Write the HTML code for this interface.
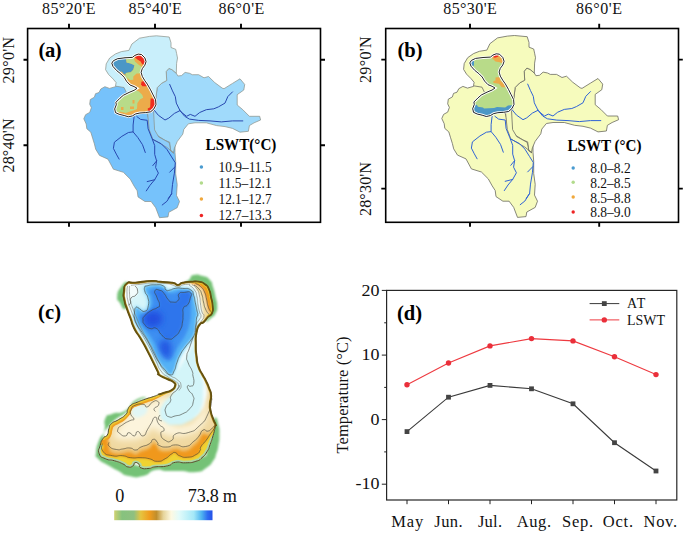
<!DOCTYPE html>
<html><head><meta charset="utf-8">
<style>
html,body{margin:0;padding:0;background:#fff;overflow:hidden;}
svg{display:block;font-family:"Liberation Serif",serif;}
.ax{font-size:16px;fill:#111;}
.lbl{font-size:20.6px;font-weight:bold;fill:#000;}
.lg{font-size:14.8px;fill:#111;}
.lgt{font-size:15.8px;font-weight:bold;fill:#000;}
.riv{fill:none;stroke-width:1;stroke-linejoin:round;stroke-linecap:round;}
.bd{stroke:#8a8f86;stroke-width:0.7;stroke-linejoin:round;}
</style></head>
<body>
<svg width="685" height="533" viewBox="0 0 685 533">
<defs>
<!-- BASINS -->
<path id="bTop" d="M106.2,63.9 L109.7,58 115.5,53.9 121.4,51.6 128.9,50.4 131.9,44 139.5,38.2 149.4,36.4 156.4,35.8 169.2,37 171,42.8 171,47.5 175.7,49.3 176.6,53.5 177.5,58 176.6,63.4 176.3,73.3 172.1,69.7 168.9,68.4 166.2,71.5 166.7,80.5 161.7,83.2 157.2,87.7 155.6,100.3 155,108 148,112 130,100 124,87.5 118,86.5 115.5,86.1 116.1,82.6 113.2,79.1 108.5,74.4 105.6,69.7 Z"/>
<path id="bRight" d="M166.2,71.5 L168.9,68.4 172.1,69.7 176.3,73.3 177.9,76 181.5,75.6 185.1,72.4 189.6,73.3 192.3,74.7 198.6,74.7 204,77.8 208.5,76.5 214.7,82.5 222.2,88.1 224,88.7 232.5,83.4 240,78.8 244.7,84.4 243.8,90 237.2,94.7 237.2,105 242.8,109.7 249.4,116.3 259.7,116.3 260.6,120 254.1,122.8 249.4,125.6 248.4,131.3 240,132.2 232.5,128.4 225,126.6 216.6,125.6 206.3,122.8 195,122.8 188.4,123.8 183.8,129.4 182.8,134.1 177.2,141.6 174.4,148.1 173.4,152.8 170.6,150.6 169.7,142.2 165,140.3 157.5,135.6 152.8,134.4 150,125 148.1,115.6 154.7,109.7 155.6,100.3 157.2,87.7 161.7,83.2 166.7,80.5 Z"/>
<path id="bLeft" d="M104.9,86.7 L109.5,88.4 115.4,86.7 118.3,84.3 124.7,86.1 129.4,88.4 134,92 148.1,115.6 150,125 156,131 166,135 175,145 175,152.5 175.7,161.5 175.7,173.8 177.2,184.6 176.5,195.4 179.5,201.5 177.2,207.7 168.8,212.3 168,216.9 159.5,217.7 155.7,207.7 151.1,201.5 144.9,201.5 138,196.9 137.2,190.8 134.2,186.2 130.3,179.2 123.4,172.3 113.4,169.2 108,159.2 99.5,155.4 95.7,149.2 94.4,143.9 92.6,138.1 90.8,132.2 86.8,128.7 86.2,124 83.8,118.8 85.6,114.7 89.7,112.4 91.4,107.7 89.7,104.2 90.3,99.5 94.4,97.2 95.5,93.7 99,92.5 100.8,89 Z"/>
<path id="bStrip" d="M147.6,113.5 L148.2,119.4 149.3,129.9 152.8,139.2 158.7,142.7 166.9,147.4 172.7,152.1 173.9,153.2 170.9,150.9 169.2,142.7 158.7,136.9 154.6,129.9 154,119.4 153.5,110 148,112 Z"/>
<path id="lake" d="M111.8,63.2 L113.4,60.7 117.6,58.7 125,57.8 132.4,57.4 134.9,55.4 138.2,54.1 141.5,54.5 144.8,57.8 146.1,61.6 144.8,65.3 142.3,68.6 141.1,72.3 142.3,76.4 144.8,80.6 147.3,84.1 150.6,89.9 153.1,94.9 155.6,99.8 156,104.8 153.9,108.9 150.6,111.8 145.6,112.6 139.9,113 135.7,113.9 132.4,115.9 128.3,116.8 124.2,115.5 119.2,114.3 115.5,112.6 114.7,108.9 116.3,104.8 115.9,102.3 120,98.2 123.3,95.3 129.1,92.4 134.1,90.3 137,88.3 134.1,86.6 130,85 126.6,81.4 124.2,77.3 120.9,74 116.7,70.6 113,66.5 Z"/>
<clipPath id="lakeClip"><use href="#lake"/></clipPath>
<!-- RIVERS -->
<g id="rivers">
<path d="M169.7,84.4 L172.5,90.9 175.3,96.6 176.3,103.1 180,110.6 184.7,116.3 189.4,119.1 198.8,120.4 210,120.9 221.3,121.9 232.5,120.9 242.8,120.9"/>
<path d="M232.5,91.9 L227.8,96.6 225,103.1 218.4,106.9 213.8,108.8 206.3,109.7 199.7,112.5 195,116.3 190.3,114.4 186.6,116.3 182.8,113.4 180,110.6"/>
<path d="M153.8,109.7 L158.4,115.3 165,120 168.8,118.1 174.4,113.4 180,110.6"/>
<path d="M134.1,116.6 L133.1,125 133.1,131.9 128.4,132.5 121.9,136.3 114.4,142.2 113.4,148.4 116.3,154.1 119.1,159.1"/>
<path d="M133.1,131.9 L137.8,137.5 142.5,144.7 145.3,152.5"/>
<path d="M136.9,116.6 L140.6,119.4 147.2,120.3 148.1,128.8 151.9,138.1 154.7,145.6 154.7,154.4 156.6,160.9 155.6,167.5 158.4,173.1 154.7,179.7 150,185.3 146.3,190.9"/>
<path d="M154.7,179.7 L147.2,181.6"/>
<path d="M156.6,160.9 L152.8,165.6"/>
<path d="M152.8,139.4 L161.3,143.8 166.9,149.4 171.6,156.9 175.3,162.8 174.4,173.1 172.5,184.4 171.6,193.8 166.9,201.3 162.2,205"/>
<path d="M174.8,167 L169.7,172.2"/>
<path d="M171.6,193.8 L168.3,198.5"/>
</g>
</defs>

<!-- ============ PANEL (a) ============ -->
<g id="mapA">
<use href="#bLeft" fill="#76c2fb" class="bd"/>
<use href="#bRight" fill="#a0dafb" class="bd"/>
<use href="#bStrip" fill="#8ccdfa" class="bd"/>
<use href="#bTop" fill="#c9effb" class="bd"/>
<use href="#rivers" class="riv" stroke="#2848b0"/>
<use href="#lake" fill="#fff" stroke="#fff" stroke-width="2.4"/>
<g clip-path="url(#lakeClip)">
<rect x="105" y="50" width="60" height="70" fill="#ecab4a"/>
<path fill="#4b97c6" d="M110,62.4 L118.4,57 125.8,57 126.6,62.4 130.8,63.6 134.5,65.3 133.3,69.8 130.8,72.3 125.8,73.1 125.4,74.8 123.8,74 121.7,71.5 116,73 110,68Z"/>
<path fill="#b8db89" d="M125.8,56 L133.3,56 134.9,61.6 139,64.9 141.5,66.5 140.7,70.6 139.9,73.5 136.6,73.5 133.3,76.4 133.3,79.7 130,80.1 127.5,78.1 125.8,74.8 125.8,73.1 130.8,72.3 133.3,69.8 134.5,65.3 130.8,63.6 126.6,62.4Z"/>
<path fill="#b8db89" d="M122.5,75 L126.5,75.5 128,81 124,80Z"/>
<path fill="#b8db89" d="M112,104 L120,97 124.2,93.7 130,90.8 134.9,89.7 139,91.6 142.3,94.9 143.2,97.8 139.9,99.4 137.4,103.1 137,108.9 134.9,110.1 130,111.4 125.8,113 120.9,111.8 116.7,112.6 112,110Z"/>
<path fill="#ecab4a" d="M121,107 h2.5v3h-2.5z M130,106.5 h4v2.5h-4z M132.5,100 h2v3.5h-2z"/>
<path fill="#ef2d1f" d="M134.5,57 L136,53 141.5,53 146,57 147,63.2 142.3,64.5 140.7,61.6 137.4,59.5Z"/>
<path fill="#ef2d1f" d="M141.5,81.7 L144,81 147.5,83.9 146.5,86.3 142.3,86.3 141.1,84.3Z"/>
<path fill="#ef2d1f" d="M150.6,98.6 L156,98.6 157,104.8 153.5,110 150.6,113 148.1,111.8 147.7,108.5 150.2,107.3Z"/>
</g>
<use href="#lake" fill="none" stroke="#fff" stroke-width="2.8" clip-path="url(#lakeClip)"/>
<use href="#lake" fill="none" stroke="#111" stroke-width="0.9"/>
</g>
<rect x="27.6" y="28.5" width="292.9" height="193.8" fill="none" stroke="#000" stroke-width="1.6"/>

<!-- ============ PANEL (b) ============ -->
<g id="mapB" transform="translate(358,-0.3)">
<use href="#bLeft" fill="#f6fbbd" class="bd" style="stroke:#6a6a60;stroke-width:0.8"/>
<use href="#bRight" fill="#f6fbbd" class="bd" style="stroke:#6a6a60;stroke-width:0.8"/>
<use href="#bStrip" fill="#f6fbbd" class="bd" style="stroke:#6a6a60;stroke-width:0.8"/>
<use href="#bTop" fill="#f6fbbd" class="bd" style="stroke:#6a6a60;stroke-width:0.8"/>
<use href="#rivers" class="riv" stroke="#2f63d6"/>
<use href="#lake" fill="#fff" stroke="#fff" stroke-width="2.4"/>
<g clip-path="url(#lakeClip)">
<rect x="105" y="50" width="60" height="70" fill="#b8db89"/>
<path fill="#4b97c6" d="M110,61.2 L116,60.5 116,66.1 110,66.1Z"/>
<path fill="#ecab4a" d="M133.3,57.7 L136.1,55 143.1,55 147,60.5 145.5,64 141.7,62.6 137.5,61.9 135.4,59.8Z"/>
<path fill="#ef2d1f" d="M134.7,54 L139.6,53.5 140.3,57 136.8,58 134.7,57Z"/>
<path fill="#ecab4a" d="M137.5,77.9 L141.7,77.2 142.4,80.7 145.2,83.4 147.5,87.6 143.8,87.6 141,84.1 135.4,83.4 135.4,81.3 137.5,80.7Z"/>
<path fill="#4b97c6" d="M112,105.7 L118.8,105 120,107 125,107.7 126,108.8 136.1,108.4 139,107.4 147.2,107.7 150,105.7 158,105 158,118 112,118Z"/>
</g>
<use href="#lake" fill="none" stroke="#fff" stroke-width="2.8" clip-path="url(#lakeClip)"/>
<use href="#lake" fill="none" stroke="#111" stroke-width="0.9"/>
</g>
<rect x="385.7" y="28.5" width="292.8" height="193.8" fill="none" stroke="#000" stroke-width="1.6"/>

<!-- ticks (a) -->
<g stroke="#000" stroke-width="1.9" fill="none">
<path d="M69,23.8V28.4 M155,23.8V28.4 M241,23.8V28.4 M69,222.4V226.8 M155,222.4V226.8 M241,222.4V226.8"/>
<path d="M23.5,59.8H27.6 M23.5,145.3H27.6 M320.5,59.8H325 M320.5,145.3H325"/>
<path d="M470,23.8V28.4 M599.2,23.8V28.4 M470,222.4V226.8 M599.2,222.4V226.8"/>
<path d="M381.3,59.6H385.7 M381.3,188.6H385.7 M678.5,59.6H682.8 M678.5,188.6H682.8"/>
</g>
<!-- axis text (a) -->
<g class="ax">
<text x="42.1" y="13.7" textLength="53.4">85°20'E</text>
<text x="128.5" y="13.7" textLength="53.4">85°40'E</text>
<text x="218.4" y="13.7" textLength="46">86°0'E</text>
<text transform="translate(14.2,83.5) rotate(-90)" textLength="46.5">29°0'N</text>
<text transform="translate(14.2,172.5) rotate(-90)" textLength="54">28°40'N</text>
<text x="443.3" y="13.7" textLength="53.4">85°30'E</text>
<text x="576" y="13.7" textLength="46">86°0'E</text>
<text transform="translate(371,83) rotate(-90)" textLength="46.5">29°0'N</text>
<text transform="translate(371,216) rotate(-90)" textLength="54">28°30'N</text>
</g>
<text class="lbl" x="38.5" y="56.6" textLength="23.2">(a)</text>
<text class="lbl" x="397.5" y="56.6" textLength="25">(b)</text>
<text class="lbl" x="38.1" y="319.4" textLength="22.9">(c)</text>
<text class="lbl" x="397" y="319.7" textLength="25">(d)</text>

<!-- legend (a) -->
<text class="lgt" x="205.6" y="149.9" lengthAdjust="spacingAndGlyphs" textLength="70.8">LSWT(°C)</text>
<g class="lg">
<text x="218.5" y="172.1" lengthAdjust="spacingAndGlyphs" textLength="53.1">10.9–11.5</text>
<text x="218.5" y="187.9" lengthAdjust="spacingAndGlyphs" textLength="53.1">11.5–12.1</text>
<text x="218.5" y="203.6" lengthAdjust="spacingAndGlyphs" textLength="53.1">12.1–12.7</text>
<text x="218.5" y="219.6" lengthAdjust="spacingAndGlyphs" textLength="53.1">12.7–13.3</text>
</g>
<circle cx="201.4" cy="167" r="1.75" fill="#4a9bd0"/>
<circle cx="201.4" cy="183" r="1.75" fill="#b2db8c"/>
<circle cx="201.4" cy="199" r="1.75" fill="#f0a83c"/>
<circle cx="201.4" cy="215.4" r="1.75" fill="#ee2424"/>

<!-- legend (b) -->
<text class="lgt" x="567.5" y="150.5" lengthAdjust="spacingAndGlyphs" textLength="74">LSWT (°C)</text>
<g class="lg">
<text x="590.2" y="173.1" lengthAdjust="spacingAndGlyphs" textLength="40.5">8.0–8.2</text>
<text x="590.2" y="187.8" lengthAdjust="spacingAndGlyphs" textLength="40.5">8.2–8.5</text>
<text x="590.2" y="202.6" lengthAdjust="spacingAndGlyphs" textLength="40.5">8.5–8.8</text>
<text x="590.2" y="217.4" lengthAdjust="spacingAndGlyphs" textLength="40.5">8.8–9.0</text>
</g>
<circle cx="573.2" cy="168" r="1.7" fill="#4a9bd0"/>
<circle cx="573.2" cy="182.2" r="1.7" fill="#b2db8c"/>
<circle cx="573.2" cy="197" r="1.7" fill="#f0a83c"/>
<circle cx="573.2" cy="212" r="1.7" fill="#ee2424"/>

<!-- ============ PANEL (d) chart ============ -->
<rect x="386.6" y="290.4" width="290.2" height="209.6" fill="none" stroke="#262626" stroke-width="1.2"/>
<g stroke="#222" stroke-width="1" fill="none">
<path d="M381.8,290.4H386.6 M381.8,355.1H386.6 M381.8,419.6H386.6 M381.8,484.2H386.6"/>
<path d="M384.2,322.8H386.6 M384.2,387.4H386.6 M384.2,451.9H386.6"/>
<path d="M407,500V504.2 M448.5,500V504.2 M490,500V504.2 M531.5,500V504.2 M573,500V504.2 M614.5,500V504.2 M656,500V504.2"/>
</g>
<g class="ax" style="font-size:16.5px" text-anchor="end">
<text x="379.4" y="295.6" lengthAdjust="spacingAndGlyphs" textLength="18">20</text>
<text x="379.4" y="360" lengthAdjust="spacingAndGlyphs" textLength="18">10</text>
<text x="379.4" y="424.5" lengthAdjust="spacingAndGlyphs" textLength="9">0</text>
<text x="379.4" y="489" lengthAdjust="spacingAndGlyphs" textLength="24">-10</text>
</g>
<g class="ax" style="font-size:16.5px">
<text x="391.2" y="526.5" textLength="32.1">May</text>
<text x="434.3" y="526.5" textLength="28.4">Jun.</text>
<text x="477.9" y="526.5" textLength="24.2">Jul.</text>
<text x="516.8" y="526.5" textLength="34.2">Aug.</text>
<text x="562" y="526.5" textLength="31">Sep.</text>
<text x="602.7" y="526.5" textLength="30.3">Oct.</text>
<text x="643.5" y="526.5" textLength="33.6">Nov.</text>
<text transform="translate(348.4,453.5) rotate(-90)" textLength="117">Temperature (°C)</text>
</g>
<!-- AT -->
<polyline points="407,431.6 448.5,397.2 490,385.4 531.5,388.8 573,403.8 614.5,442.7 656,471" fill="none" stroke="#3a3a3a" stroke-width="1.1"/>
<g fill="#444">
<rect x="404.6" y="429.2" width="4.8" height="4.8"/><rect x="446.1" y="394.8" width="4.8" height="4.8"/><rect x="487.6" y="383" width="4.8" height="4.8"/><rect x="529.1" y="386.4" width="4.8" height="4.8"/><rect x="570.6" y="401.4" width="4.8" height="4.8"/><rect x="612.1" y="440.3" width="4.8" height="4.8"/><rect x="653.6" y="468.6" width="4.8" height="4.8"/>
</g>
<!-- LSWT -->
<polyline points="407,384.8 448.5,363 490,345.9 531.5,338.6 573,340.9 614.5,356.7 656,374.6" fill="none" stroke="#ee3a40" stroke-width="1.1"/>
<g fill="#ea2f3a">
<circle cx="407" cy="384.8" r="2.7"/><circle cx="448.5" cy="363" r="2.7"/><circle cx="490" cy="345.9" r="2.7"/><circle cx="531.5" cy="338.6" r="2.7"/><circle cx="573" cy="340.9" r="2.7"/><circle cx="614.5" cy="356.7" r="2.7"/><circle cx="656" cy="374.6" r="2.7"/>
</g>
<!-- chart legend -->
<path d="M589.6,303.6H619.3" stroke="#3a3a3a" stroke-width="1"/>
<rect x="601.9" y="301.2" width="4.8" height="4.8" fill="#444"/>
<path d="M589.6,319.9H619.3" stroke="#ee3a40" stroke-width="1"/>
<circle cx="604.3" cy="319.9" r="2.7" fill="#ea2f3a"/>
<text x="627" y="308.3" textLength="18.4" style="font-size:14px" fill="#111">AT</text>
<text x="627" y="324.8" textLength="38" lengthAdjust="spacingAndGlyphs" style="font-size:14px" fill="#111">LSWT</text>


<!-- ============ PANEL (c) ============ -->
<defs>
<filter id="bl0" x="-20%" y="-20%" width="140%" height="140%"><feGaussianBlur stdDeviation="0.7"/></filter>
<filter id="bl1" x="-20%" y="-20%" width="140%" height="140%"><feGaussianBlur stdDeviation="1.1"/></filter>
<filter id="bl2" x="-20%" y="-20%" width="140%" height="140%"><feGaussianBlur stdDeviation="1.8"/></filter>
<filter id="bl3" x="-20%" y="-20%" width="140%" height="140%"><feGaussianBlur stdDeviation="3"/></filter>
<clipPath id="upperC"><path d="M90,270H230V428L216,426L205,445L192,445L192,402L180,393L160,396L150,385L90,385Z"/></clipPath>
<clipPath id="lowerC"><path d="M90,445H206L218,426H230V485H90Z"/></clipPath>
<clipPath id="nwC"><path d="M92,440 L92,415 128,396 158,388 170,392 150,402 136,408 118,428 112,440Z"/></clipPath>
<clipPath id="neC"><path d="M192,276 H222 V316 H206 L204,296 198,286Z"/></clipPath>
<clipPath id="cClip"><path d="M126.8,283.4C130.6,280.3 126.8,283.4 135.2,282.6C143.6,281.8 143.7,281.2 152.0,280.9C160.3,280.6 153.2,281.1 160.0,281.7C166.8,282.3 166.3,281.7 172.3,282.7C178.3,283.7 174.5,284.8 177.9,284.8C181.3,284.8 178.2,283.7 182.5,282.7C186.8,281.7 185.3,282.0 190.7,281.7C196.1,281.4 194.0,280.8 198.8,281.7C203.6,282.6 201.6,281.7 205.0,284.3C208.4,286.9 207.0,285.0 209.0,289.4C211.0,293.8 209.9,292.1 211.1,297.5C212.3,302.9 212.3,300.6 212.6,305.7C212.9,310.8 213.6,309.1 212.1,312.9C210.6,316.7 210.7,314.0 208.0,317.0C205.3,320.0 206.6,319.5 203.9,322.0C201.2,324.5 202.3,321.1 199.9,324.6C197.5,328.1 197.9,325.9 196.6,332.5C195.3,339.1 195.9,336.4 195.9,344.3C195.9,352.2 195.7,348.7 196.6,356.1C197.5,363.5 196.6,360.5 198.6,366.6C200.6,372.7 200.0,369.7 202.5,374.5C205.0,379.3 203.9,376.5 206.1,381.1C208.3,385.7 207.5,383.5 209.2,388.3C210.9,393.1 210.9,390.3 211.2,395.4C211.5,400.5 210.4,398.5 210.2,403.6C210.0,408.7 209.7,405.7 210.7,410.8C211.7,415.9 211.5,414.2 213.2,418.9C214.9,423.6 215.1,422.3 215.8,425.0C216.5,427.7 216.2,423.6 215.3,427.0C214.4,430.4 214.9,429.4 213.2,435.2C211.5,441.0 212.2,438.9 210.2,444.4C208.2,449.9 209.8,447.2 207.1,451.6C204.4,456.0 205.7,454.5 202.0,457.7C198.3,460.9 201.3,459.6 195.9,461.3C190.5,463.0 192.5,462.5 185.7,462.8C178.9,463.1 181.5,461.3 175.4,462.3C169.3,463.3 174.1,464.4 167.3,465.9C160.5,467.4 161.0,466.1 155.0,466.9C149.0,467.7 153.9,468.1 149.2,468.4C144.5,468.7 144.4,469.3 141.0,467.9C137.6,466.5 141.0,466.0 139.0,464.3C137.0,462.6 136.9,462.3 134.9,462.8C132.9,463.3 135.3,464.5 132.9,465.9C130.5,467.3 131.2,467.6 127.8,466.9C124.4,466.2 127.1,465.8 122.7,463.8C118.3,461.8 120.3,462.5 114.5,460.8C108.7,459.1 110.4,461.1 105.3,458.7C100.2,456.3 100.9,458.0 99.2,453.6C97.5,449.2 98.9,450.5 100.2,445.4C101.5,440.3 100.8,441.8 103.2,438.3C105.6,434.8 105.4,438.2 107.3,435.0C109.2,431.8 107.5,432.6 108.9,428.8C110.3,425.0 108.2,426.8 111.4,423.7C114.6,420.6 113.8,422.7 118.6,419.6C123.4,416.5 122.6,417.9 125.7,414.5C128.8,411.1 126.1,412.5 127.8,409.4C129.5,406.3 127.7,407.7 130.8,405.3C133.9,402.9 132.2,404.3 137.0,402.3C141.8,400.3 139.7,401.1 145.1,399.2C150.5,397.3 148.6,398.2 153.3,396.6C158.0,395.0 155.1,395.8 159.1,394.4C163.1,393.0 161.1,393.8 165.2,392.4C169.3,391.0 168.1,392.4 171.3,390.3C174.5,388.2 174.2,388.9 174.9,386.2C175.6,383.5 175.9,384.6 173.4,382.2C170.9,379.8 172.1,381.5 167.3,379.1C162.5,376.7 162.3,377.4 159.1,375.0C155.9,372.6 160.0,376.4 157.8,371.9C155.6,367.4 156.1,368.4 152.6,361.4C149.1,354.4 151.2,358.3 147.3,350.8C143.4,343.3 145.2,346.4 140.8,339.0C136.4,331.6 137.7,335.5 134.2,328.5C130.7,321.5 132.8,324.6 130.3,318.0C127.8,311.4 128.8,314.5 126.8,308.6C124.8,302.7 125.3,305.8 124.3,300.2C123.3,294.6 123.0,297.4 123.8,291.8C124.6,286.2 123.0,286.5 126.8,283.4Z"/></clipPath>
</defs>
<g filter="url(#bl1)" fill="#74c276">
<path d="M127.5,282.5C126.0,280.8 124.4,282.2 121.0,287.0C117.6,291.8 117.5,291.5 117.2,296.8C116.9,302.1 117.6,298.9 120.0,303.0C122.4,307.1 122.2,309.0 124.5,309.0C126.8,309.0 126.7,308.7 127.0,303.0C127.3,297.3 125.3,298.8 125.5,292.0C125.7,285.2 129.0,284.2 127.5,282.5Z"/>
<path d="M187.0,282.0C183.9,280.9 187.4,281.5 189.6,279.2C191.8,276.9 189.3,276.1 193.7,275.1C198.1,274.1 197.4,274.4 202.9,276.1C208.4,277.8 206.7,276.5 210.1,280.2C213.5,283.9 211.2,281.5 213.1,287.3C215.0,293.1 214.3,291.4 215.7,297.5C217.1,303.6 217.2,300.6 217.2,305.7C217.2,310.8 217.7,308.8 215.7,312.9C213.7,317.0 214.3,315.3 211.1,318.0C207.9,320.7 206.4,323.0 206.0,321.0C205.6,319.0 209.0,319.7 210.0,312.0C211.0,304.3 210.3,306.0 209.0,298.0C207.7,290.0 209.3,293.2 206.0,288.0C202.7,282.8 205.3,284.5 199.0,282.5C192.7,280.5 190.1,283.1 187.0,282.0Z"/>
<path d="M146.0,397.5C146.0,396.7 141.8,396.2 135.0,400.5C128.2,404.8 133.4,405.9 125.7,410.4C118.0,414.9 118.8,411.3 112.0,414.0C105.2,416.7 107.9,413.0 105.3,418.6C102.7,424.2 106.3,423.7 104.3,430.9C102.3,438.1 101.9,432.9 99.2,440.1C96.5,447.3 96.5,446.4 96.1,452.6C95.7,458.8 93.7,454.3 98.1,458.7C102.5,463.1 102.6,461.8 109.4,465.9C116.2,470.0 112.1,467.6 118.6,471.0C125.1,474.4 120.6,474.4 128.8,476.1C137.0,477.8 134.4,478.1 143.1,476.1C151.8,474.1 146.9,471.7 155.0,470.0C163.1,468.3 158.8,470.7 167.3,471.0C175.8,471.3 171.0,470.7 180.5,471.0C190.0,471.3 187.4,473.0 195.9,472.0C204.4,471.0 200.3,471.6 206.1,467.9C211.9,464.2 209.8,465.6 213.2,460.8C216.6,456.0 214.6,458.7 216.3,453.6C218.0,448.5 217.4,451.5 218.4,445.4C219.4,439.3 219.4,442.0 219.4,435.2C219.4,428.4 219.9,430.7 218.4,425.0C216.9,419.3 217.1,416.3 215.0,418.0C212.9,419.7 214.3,420.0 212.0,430.0C209.7,440.0 212.0,438.7 208.0,448.0C204.0,457.3 210.7,453.7 200.0,458.0C189.3,462.3 192.7,458.3 176.0,461.0C159.3,463.7 167.0,465.7 150.0,466.0C133.0,466.3 140.7,465.7 125.0,462.0C109.3,458.3 110.3,462.3 103.0,455.0C95.7,447.7 100.7,450.0 103.0,440.0C105.3,430.0 101.7,434.7 110.0,425.0C118.3,415.3 119.7,418.3 128.0,411.0C136.3,403.7 129.0,407.5 135.0,403.0C141.0,398.5 146.0,398.3 146.0,397.5Z"/>
</g>
<path d="M126.8,283.4C130.6,280.3 126.8,283.4 135.2,282.6C143.6,281.8 143.7,281.2 152.0,280.9C160.3,280.6 153.2,281.1 160.0,281.7C166.8,282.3 166.3,281.7 172.3,282.7C178.3,283.7 174.5,284.8 177.9,284.8C181.3,284.8 178.2,283.7 182.5,282.7C186.8,281.7 185.3,282.0 190.7,281.7C196.1,281.4 194.0,280.8 198.8,281.7C203.6,282.6 201.6,281.7 205.0,284.3C208.4,286.9 207.0,285.0 209.0,289.4C211.0,293.8 209.9,292.1 211.1,297.5C212.3,302.9 212.3,300.6 212.6,305.7C212.9,310.8 213.6,309.1 212.1,312.9C210.6,316.7 210.7,314.0 208.0,317.0C205.3,320.0 206.6,319.5 203.9,322.0C201.2,324.5 202.3,321.1 199.9,324.6C197.5,328.1 197.9,325.9 196.6,332.5C195.3,339.1 195.9,336.4 195.9,344.3C195.9,352.2 195.7,348.7 196.6,356.1C197.5,363.5 196.6,360.5 198.6,366.6C200.6,372.7 200.0,369.7 202.5,374.5C205.0,379.3 203.9,376.5 206.1,381.1C208.3,385.7 207.5,383.5 209.2,388.3C210.9,393.1 210.9,390.3 211.2,395.4C211.5,400.5 210.4,398.5 210.2,403.6C210.0,408.7 209.7,405.7 210.7,410.8C211.7,415.9 211.5,414.2 213.2,418.9C214.9,423.6 215.1,422.3 215.8,425.0C216.5,427.7 216.2,423.6 215.3,427.0C214.4,430.4 214.9,429.4 213.2,435.2C211.5,441.0 212.2,438.9 210.2,444.4C208.2,449.9 209.8,447.2 207.1,451.6C204.4,456.0 205.7,454.5 202.0,457.7C198.3,460.9 201.3,459.6 195.9,461.3C190.5,463.0 192.5,462.5 185.7,462.8C178.9,463.1 181.5,461.3 175.4,462.3C169.3,463.3 174.1,464.4 167.3,465.9C160.5,467.4 161.0,466.1 155.0,466.9C149.0,467.7 153.9,468.1 149.2,468.4C144.5,468.7 144.4,469.3 141.0,467.9C137.6,466.5 141.0,466.0 139.0,464.3C137.0,462.6 136.9,462.3 134.9,462.8C132.9,463.3 135.3,464.5 132.9,465.9C130.5,467.3 131.2,467.6 127.8,466.9C124.4,466.2 127.1,465.8 122.7,463.8C118.3,461.8 120.3,462.5 114.5,460.8C108.7,459.1 110.4,461.1 105.3,458.7C100.2,456.3 100.9,458.0 99.2,453.6C97.5,449.2 98.9,450.5 100.2,445.4C101.5,440.3 100.8,441.8 103.2,438.3C105.6,434.8 105.4,438.2 107.3,435.0C109.2,431.8 107.5,432.6 108.9,428.8C110.3,425.0 108.2,426.8 111.4,423.7C114.6,420.6 113.8,422.7 118.6,419.6C123.4,416.5 122.6,417.9 125.7,414.5C128.8,411.1 126.1,412.5 127.8,409.4C129.5,406.3 127.7,407.7 130.8,405.3C133.9,402.9 132.2,404.3 137.0,402.3C141.8,400.3 139.7,401.1 145.1,399.2C150.5,397.3 148.6,398.2 153.3,396.6C158.0,395.0 155.1,395.8 159.1,394.4C163.1,393.0 161.1,393.8 165.2,392.4C169.3,391.0 168.1,392.4 171.3,390.3C174.5,388.2 174.2,388.9 174.9,386.2C175.6,383.5 175.9,384.6 173.4,382.2C170.9,379.8 172.1,381.5 167.3,379.1C162.5,376.7 162.3,377.4 159.1,375.0C155.9,372.6 160.0,376.4 157.8,371.9C155.6,367.4 156.1,368.4 152.6,361.4C149.1,354.4 151.2,358.3 147.3,350.8C143.4,343.3 145.2,346.4 140.8,339.0C136.4,331.6 137.7,335.5 134.2,328.5C130.7,321.5 132.8,324.6 130.3,318.0C127.8,311.4 128.8,314.5 126.8,308.6C124.8,302.7 125.3,305.8 124.3,300.2C123.3,294.6 123.0,297.4 123.8,291.8C124.6,286.2 123.0,286.5 126.8,283.4Z" fill="#f3fcfc"/>
<g clip-path="url(#cClip)">
 <g filter="url(#bl2)">
  <path d="M112.0,425.0C118.0,417.7 116.0,422.0 122.0,416.0C128.0,410.0 122.3,412.2 130.0,407.0C137.7,401.8 135.0,404.5 145.0,400.5C155.0,396.5 151.0,397.8 160.0,395.0C169.0,392.2 166.3,391.3 172.0,392.0C177.7,392.7 174.3,391.7 177.0,397.0C179.7,402.3 175.7,401.7 180.0,408.0C184.3,414.3 183.3,414.7 190.0,416.0C196.7,417.3 194.7,417.3 200.0,412.0C205.3,406.7 203.7,408.0 206.0,400.0C208.3,392.0 207.3,394.7 207.0,388.0C206.7,381.3 203.7,378.7 205.0,380.0C206.3,381.3 209.0,382.0 211.0,392.0C213.0,402.0 209.3,398.7 211.0,410.0C212.7,421.3 215.0,416.0 216.0,426.0C217.0,436.0 217.7,430.0 214.0,440.0C210.3,450.0 216.3,449.0 205.0,456.0C193.7,463.0 198.3,457.7 180.0,461.0C161.7,464.3 168.3,465.7 150.0,466.0C131.7,466.3 141.3,466.7 125.0,462.0C108.7,457.3 108.0,460.0 101.0,452.0C94.0,444.0 100.3,447.0 104.0,438.0C107.7,429.0 106.0,432.3 112.0,425.0Z" fill="#f0d9a2"/>
 </g>
 <g filter="url(#bl3)">
  <path d="M118.0,429.0C121.7,424.3 119.7,425.3 125.0,419.0C130.3,412.7 125.7,415.3 134.0,410.0C142.3,404.7 139.7,407.3 150.0,403.0C160.3,398.7 158.3,397.7 165.0,397.0C171.7,396.3 170.0,396.0 170.0,401.0C170.0,406.0 164.7,404.7 165.0,412.0C165.3,419.3 164.0,418.7 171.0,423.0C178.0,427.3 177.3,426.7 186.0,425.0C194.7,423.3 191.3,423.7 197.0,418.0C202.7,412.3 200.0,414.7 203.0,408.0C206.0,401.3 204.7,397.3 206.0,398.0C207.3,398.7 207.0,403.0 207.0,410.0C207.0,417.0 208.3,413.0 206.0,419.0C203.7,425.0 204.7,423.3 200.0,428.0C195.3,432.7 200.0,430.3 192.0,433.0C184.0,435.7 186.3,436.0 176.0,436.0C165.7,436.0 169.0,435.3 161.0,433.0C153.0,430.7 158.0,427.7 152.0,429.0C146.0,430.3 151.7,433.3 143.0,437.0C134.3,440.7 135.0,439.7 126.0,440.0C117.0,440.3 120.0,440.3 116.0,438.0C112.0,435.7 113.3,436.0 114.0,433.0C114.7,430.0 114.3,433.7 118.0,429.0Z" fill="#fcf4dc"/>
 </g>
 <g filter="url(#bl2)">
  <path d="M176.0,372.0C183.3,364.0 183.3,360.7 190.0,350.0C196.7,339.3 193.7,336.7 196.0,340.0C198.3,343.3 195.0,347.3 197.0,360.0C199.0,372.7 200.0,367.3 202.0,378.0C204.0,388.7 203.3,382.0 203.0,392.0C202.7,402.0 203.3,400.0 201.0,408.0C198.7,416.0 200.3,411.3 196.0,416.0C191.7,420.7 194.7,419.0 188.0,422.0C181.3,425.0 183.7,425.0 176.0,425.0C168.3,425.0 170.3,425.7 165.0,422.0C159.7,418.3 160.7,420.0 160.0,414.0C159.3,408.0 159.7,410.0 163.0,404.0C166.3,398.0 165.7,401.3 170.0,396.0C174.3,390.7 173.7,392.0 176.0,388.0C178.3,384.0 179.0,386.7 177.0,384.0C175.0,381.3 175.0,383.3 170.0,380.0C165.0,376.7 162.7,376.0 162.0,374.0C161.3,372.0 163.3,374.7 168.0,374.0C172.7,373.3 168.7,380.0 176.0,372.0Z" fill="#d3f5f9"/>
 </g>
 <g filter="url(#bl2)">
  <path d="M132.5,408.0C134.2,405.5 133.5,406.3 137.0,405.5C140.5,404.7 139.7,404.7 143.0,405.5C146.3,406.3 146.0,405.5 147.0,408.0C148.0,410.5 148.0,410.2 146.0,413.0C144.0,415.8 144.7,415.2 141.0,416.5C137.3,417.8 138.0,418.2 135.0,417.0C132.0,415.8 132.8,416.0 132.0,413.0C131.2,410.0 130.8,410.5 132.5,408.0Z" fill="#e1f6f5"/>
 </g>
 <g filter="url(#bl1)">
  <path d="M108.9,442.9C110.7,446.6 106.9,444.6 109.4,447.0C111.9,449.4 112.1,449.2 116.5,450.0C120.9,450.8 118.3,450.0 122.7,449.5C127.1,449.0 125.4,448.2 129.8,448.5C134.2,448.8 132.2,450.8 135.9,450.5C139.6,450.2 136.6,449.5 141.0,447.5C145.4,445.5 145.1,447.0 149.2,444.4C153.3,441.8 150.6,440.3 153.3,439.8C156.0,439.3 155.5,440.9 157.4,442.9C159.3,444.9 155.8,444.4 159.1,445.9C162.4,447.4 161.9,447.7 167.3,447.5C172.7,447.3 169.3,445.6 175.4,445.4C181.5,445.2 179.6,448.2 185.7,447.0C191.8,445.8 189.4,445.2 193.8,441.8C198.2,438.4 195.8,440.4 198.9,436.7C202.0,433.0 199.9,432.3 203.0,430.6C206.1,428.9 205.0,432.3 208.1,431.6C211.2,430.9 209.8,430.6 212.2,428.6C214.6,426.6 212.0,426.7 215.3,425.5C218.6,424.3 219.8,406.8 222.0,425.0C224.2,443.2 266.0,461.7 222.0,480.0C178.0,498.3 134.0,494.7 90.0,480.0C46.0,465.3 85.3,450.7 90.0,436.0C94.7,421.3 97.7,433.7 104.0,436.0C110.3,438.3 107.1,439.2 108.9,442.9Z" fill="#eec274"/>
 </g>
 <g filter="url(#bl2)">
  <path d="M108.9,446.9C110.7,451.9 106.9,448.6 109.4,451.0C111.9,453.4 112.1,453.2 116.5,454.0C120.9,454.8 118.3,454.0 122.7,453.5C127.1,453.0 125.4,452.2 129.8,452.5C134.2,452.8 132.2,454.8 135.9,454.5C139.6,454.2 136.6,453.5 141.0,451.5C145.4,449.5 145.1,451.0 149.2,448.4C153.3,445.8 150.6,444.3 153.3,443.8C156.0,443.3 155.5,444.9 157.4,446.9C159.3,448.9 155.8,448.4 159.1,449.9C162.4,451.4 161.9,451.7 167.3,451.5C172.7,451.3 169.3,449.6 175.4,449.4C181.5,449.2 179.6,452.2 185.7,451.0C191.8,449.8 189.4,449.2 193.8,445.8C198.2,442.4 195.8,444.4 198.9,440.7C202.0,437.0 199.9,436.3 203.0,434.6C206.1,432.9 205.0,436.3 208.1,435.6C211.2,434.9 209.8,434.6 212.2,432.6C214.6,430.6 212.0,432.0 215.3,429.5C218.6,427.0 219.8,408.2 222.0,425.0C224.2,441.8 266.0,461.7 222.0,480.0C178.0,498.3 134.0,494.7 90.0,480.0C46.0,465.3 85.3,450.7 90.0,436.0C94.7,421.3 97.7,432.4 104.0,436.0C110.3,439.6 107.1,441.9 108.9,446.9Z" fill="#f0981a"/>
 </g>
 <g clip-path="url(#nwC)"><g filter="url(#bl0)">
  <path d="M126.8,283.4C130.6,280.3 126.8,283.4 135.2,282.6C143.6,281.8 143.7,281.2 152.0,280.9C160.3,280.6 153.2,281.1 160.0,281.7C166.8,282.3 166.3,281.7 172.3,282.7C178.3,283.7 174.5,284.8 177.9,284.8C181.3,284.8 178.2,283.7 182.5,282.7C186.8,281.7 185.3,282.0 190.7,281.7C196.1,281.4 194.0,280.8 198.8,281.7C203.6,282.6 201.6,281.7 205.0,284.3C208.4,286.9 207.0,285.0 209.0,289.4C211.0,293.8 209.9,292.1 211.1,297.5C212.3,302.9 212.3,300.6 212.6,305.7C212.9,310.8 213.6,309.1 212.1,312.9C210.6,316.7 210.7,314.0 208.0,317.0C205.3,320.0 206.6,319.5 203.9,322.0C201.2,324.5 202.3,321.1 199.9,324.6C197.5,328.1 197.9,325.9 196.6,332.5C195.3,339.1 195.9,336.4 195.9,344.3C195.9,352.2 195.7,348.7 196.6,356.1C197.5,363.5 196.6,360.5 198.6,366.6C200.6,372.7 200.0,369.7 202.5,374.5C205.0,379.3 203.9,376.5 206.1,381.1C208.3,385.7 207.5,383.5 209.2,388.3C210.9,393.1 210.9,390.3 211.2,395.4C211.5,400.5 210.4,398.5 210.2,403.6C210.0,408.7 209.7,405.7 210.7,410.8C211.7,415.9 211.5,414.2 213.2,418.9C214.9,423.6 215.1,422.3 215.8,425.0C216.5,427.7 216.2,423.6 215.3,427.0C214.4,430.4 214.9,429.4 213.2,435.2C211.5,441.0 212.2,438.9 210.2,444.4C208.2,449.9 209.8,447.2 207.1,451.6C204.4,456.0 205.7,454.5 202.0,457.7C198.3,460.9 201.3,459.6 195.9,461.3C190.5,463.0 192.5,462.5 185.7,462.8C178.9,463.1 181.5,461.3 175.4,462.3C169.3,463.3 174.1,464.4 167.3,465.9C160.5,467.4 161.0,466.1 155.0,466.9C149.0,467.7 153.9,468.1 149.2,468.4C144.5,468.7 144.4,469.3 141.0,467.9C137.6,466.5 141.0,466.0 139.0,464.3C137.0,462.6 136.9,462.3 134.9,462.8C132.9,463.3 135.3,464.5 132.9,465.9C130.5,467.3 131.2,467.6 127.8,466.9C124.4,466.2 127.1,465.8 122.7,463.8C118.3,461.8 120.3,462.5 114.5,460.8C108.7,459.1 110.4,461.1 105.3,458.7C100.2,456.3 100.9,458.0 99.2,453.6C97.5,449.2 98.9,450.5 100.2,445.4C101.5,440.3 100.8,441.8 103.2,438.3C105.6,434.8 105.4,438.2 107.3,435.0C109.2,431.8 107.5,432.6 108.9,428.8C110.3,425.0 108.2,426.8 111.4,423.7C114.6,420.6 113.8,422.7 118.6,419.6C123.4,416.5 122.6,417.9 125.7,414.5C128.8,411.1 126.1,412.5 127.8,409.4C129.5,406.3 127.7,407.7 130.8,405.3C133.9,402.9 132.2,404.3 137.0,402.3C141.8,400.3 139.7,401.1 145.1,399.2C150.5,397.3 148.6,398.2 153.3,396.6C158.0,395.0 155.1,395.8 159.1,394.4C163.1,393.0 161.1,393.8 165.2,392.4C169.3,391.0 168.1,392.4 171.3,390.3C174.5,388.2 174.2,388.9 174.9,386.2C175.6,383.5 175.9,384.6 173.4,382.2C170.9,379.8 172.1,381.5 167.3,379.1C162.5,376.7 162.3,377.4 159.1,375.0C155.9,372.6 160.0,376.4 157.8,371.9C155.6,367.4 156.1,368.4 152.6,361.4C149.1,354.4 151.2,358.3 147.3,350.8C143.4,343.3 145.2,346.4 140.8,339.0C136.4,331.6 137.7,335.5 134.2,328.5C130.7,321.5 132.8,324.6 130.3,318.0C127.8,311.4 128.8,314.5 126.8,308.6C124.8,302.7 125.3,305.8 124.3,300.2C123.3,294.6 123.0,297.4 123.8,291.8C124.6,286.2 123.0,286.5 126.8,283.4Z" fill="none" stroke="#f0a224" stroke-width="7.5"/>
  <path d="M126.8,283.4C130.6,280.3 126.8,283.4 135.2,282.6C143.6,281.8 143.7,281.2 152.0,280.9C160.3,280.6 153.2,281.1 160.0,281.7C166.8,282.3 166.3,281.7 172.3,282.7C178.3,283.7 174.5,284.8 177.9,284.8C181.3,284.8 178.2,283.7 182.5,282.7C186.8,281.7 185.3,282.0 190.7,281.7C196.1,281.4 194.0,280.8 198.8,281.7C203.6,282.6 201.6,281.7 205.0,284.3C208.4,286.9 207.0,285.0 209.0,289.4C211.0,293.8 209.9,292.1 211.1,297.5C212.3,302.9 212.3,300.6 212.6,305.7C212.9,310.8 213.6,309.1 212.1,312.9C210.6,316.7 210.7,314.0 208.0,317.0C205.3,320.0 206.6,319.5 203.9,322.0C201.2,324.5 202.3,321.1 199.9,324.6C197.5,328.1 197.9,325.9 196.6,332.5C195.3,339.1 195.9,336.4 195.9,344.3C195.9,352.2 195.7,348.7 196.6,356.1C197.5,363.5 196.6,360.5 198.6,366.6C200.6,372.7 200.0,369.7 202.5,374.5C205.0,379.3 203.9,376.5 206.1,381.1C208.3,385.7 207.5,383.5 209.2,388.3C210.9,393.1 210.9,390.3 211.2,395.4C211.5,400.5 210.4,398.5 210.2,403.6C210.0,408.7 209.7,405.7 210.7,410.8C211.7,415.9 211.5,414.2 213.2,418.9C214.9,423.6 215.1,422.3 215.8,425.0C216.5,427.7 216.2,423.6 215.3,427.0C214.4,430.4 214.9,429.4 213.2,435.2C211.5,441.0 212.2,438.9 210.2,444.4C208.2,449.9 209.8,447.2 207.1,451.6C204.4,456.0 205.7,454.5 202.0,457.7C198.3,460.9 201.3,459.6 195.9,461.3C190.5,463.0 192.5,462.5 185.7,462.8C178.9,463.1 181.5,461.3 175.4,462.3C169.3,463.3 174.1,464.4 167.3,465.9C160.5,467.4 161.0,466.1 155.0,466.9C149.0,467.7 153.9,468.1 149.2,468.4C144.5,468.7 144.4,469.3 141.0,467.9C137.6,466.5 141.0,466.0 139.0,464.3C137.0,462.6 136.9,462.3 134.9,462.8C132.9,463.3 135.3,464.5 132.9,465.9C130.5,467.3 131.2,467.6 127.8,466.9C124.4,466.2 127.1,465.8 122.7,463.8C118.3,461.8 120.3,462.5 114.5,460.8C108.7,459.1 110.4,461.1 105.3,458.7C100.2,456.3 100.9,458.0 99.2,453.6C97.5,449.2 98.9,450.5 100.2,445.4C101.5,440.3 100.8,441.8 103.2,438.3C105.6,434.8 105.4,438.2 107.3,435.0C109.2,431.8 107.5,432.6 108.9,428.8C110.3,425.0 108.2,426.8 111.4,423.7C114.6,420.6 113.8,422.7 118.6,419.6C123.4,416.5 122.6,417.9 125.7,414.5C128.8,411.1 126.1,412.5 127.8,409.4C129.5,406.3 127.7,407.7 130.8,405.3C133.9,402.9 132.2,404.3 137.0,402.3C141.8,400.3 139.7,401.1 145.1,399.2C150.5,397.3 148.6,398.2 153.3,396.6C158.0,395.0 155.1,395.8 159.1,394.4C163.1,393.0 161.1,393.8 165.2,392.4C169.3,391.0 168.1,392.4 171.3,390.3C174.5,388.2 174.2,388.9 174.9,386.2C175.6,383.5 175.9,384.6 173.4,382.2C170.9,379.8 172.1,381.5 167.3,379.1C162.5,376.7 162.3,377.4 159.1,375.0C155.9,372.6 160.0,376.4 157.8,371.9C155.6,367.4 156.1,368.4 152.6,361.4C149.1,354.4 151.2,358.3 147.3,350.8C143.4,343.3 145.2,346.4 140.8,339.0C136.4,331.6 137.7,335.5 134.2,328.5C130.7,321.5 132.8,324.6 130.3,318.0C127.8,311.4 128.8,314.5 126.8,308.6C124.8,302.7 125.3,305.8 124.3,300.2C123.3,294.6 123.0,297.4 123.8,291.8C124.6,286.2 123.0,286.5 126.8,283.4Z" fill="none" stroke="#ecc832" stroke-width="3.8"/>
 </g></g>
 <g filter="url(#bl1)">
  <path d="M102.2,444.2C106.6,448.3 99.8,448.3 103.2,452.4C106.6,456.5 105.9,455.1 112.4,456.5C118.9,457.9 116.6,455.8 122.7,456.5C128.8,457.2 124.7,457.8 130.8,458.5C136.9,459.2 134.9,458.2 141.0,458.5C147.1,458.8 143.7,458.3 149.2,459.5C154.7,460.7 152.1,462.1 157.4,462.1C162.7,462.1 160.6,461.9 165.2,459.5C169.8,457.1 167.9,456.9 171.3,454.9C174.7,452.9 172.7,452.9 175.4,453.4C178.1,453.9 175.4,455.0 179.5,456.5C183.6,458.0 182.2,458.4 187.7,458.0C193.2,457.6 191.8,457.6 195.9,455.4C200.0,453.2 198.3,454.0 200.0,451.3C201.7,448.6 199.0,450.7 201.0,447.3C203.0,443.9 203.0,445.2 206.1,441.1C209.2,437.0 207.6,438.7 210.2,435.0C212.8,431.3 209.9,432.2 213.8,429.9C217.7,427.6 219.3,411.3 222.0,428.0C224.7,444.7 266.0,462.7 222.0,480.0C178.0,497.3 134.0,493.3 90.0,480.0C46.0,466.7 85.9,451.9 90.0,440.0C94.1,428.1 97.8,440.1 102.2,444.2Z" fill="#efd332"/>
  <path d="M196.0,285.0C198.3,286.0 199.9,286.3 202.9,291.5C205.9,296.7 203.5,294.6 205.0,300.7C206.5,306.8 205.1,305.4 207.5,309.8C209.9,314.2 211.9,311.2 212.1,313.9C212.3,316.6 210.7,315.6 208.0,318.0C205.3,320.4 205.7,322.7 204.0,321.0C202.3,319.3 203.8,319.0 203.0,312.9C202.2,306.8 202.7,308.8 201.5,302.7C200.3,296.6 201.2,299.3 199.4,294.5C197.6,289.7 197.1,291.6 196.0,288.4C194.9,285.2 193.7,284.0 196.0,285.0Z" fill="#f2dca0"/>
  <path d="M191.0,280.0C192.3,279.1 193.8,279.0 199.0,280.0C204.2,281.0 202.5,280.0 206.5,283.0C210.5,286.0 208.7,283.3 211.0,289.0C213.3,294.7 212.5,293.7 213.5,300.0C214.5,306.3 214.3,303.3 214.0,308.0C213.7,312.7 213.8,312.3 212.5,314.0C211.2,315.7 210.9,316.0 210.0,313.0C209.1,310.0 210.3,310.7 209.8,305.0C209.3,299.3 209.8,301.2 208.5,296.0C207.2,290.8 208.5,293.3 206.0,289.5C203.5,285.7 204.7,286.7 201.0,284.5C197.3,282.3 198.3,284.3 195.0,282.8C191.7,281.3 189.7,280.9 191.0,280.0Z" fill="#ecc630"/>
  <path d="M191.0,280.5C193.7,279.5 194.0,279.3 199.0,280.5C204.0,281.7 202.2,280.8 206.0,284.0C209.8,287.2 208.3,284.5 210.5,290.0C212.7,295.5 211.5,294.7 212.5,300.6C213.5,306.5 213.7,303.5 213.5,307.8C213.3,312.1 213.7,312.4 212.0,313.5C210.3,314.6 210.4,314.6 208.5,311.0C206.6,307.4 207.6,308.2 206.3,302.7C205.0,297.2 206.1,299.2 204.5,294.5C202.9,289.8 204.2,291.8 201.5,288.6C198.8,285.4 200.0,286.7 196.5,285.0C193.0,283.3 192.8,285.0 191.0,283.5C189.2,282.0 188.3,281.5 191.0,280.5Z" fill="#f09c1a"/>
 </g>
 <path d="M126.8,283.4C130.6,280.3 126.8,283.4 135.2,282.6C143.6,281.8 143.7,281.2 152.0,280.9C160.3,280.6 153.2,281.1 160.0,281.7C166.8,282.3 166.3,281.7 172.3,282.7C178.3,283.7 174.5,284.8 177.9,284.8C181.3,284.8 178.2,283.7 182.5,282.7C186.8,281.7 185.3,282.0 190.7,281.7C196.1,281.4 194.0,280.8 198.8,281.7C203.6,282.6 201.6,281.7 205.0,284.3C208.4,286.9 207.0,285.0 209.0,289.4C211.0,293.8 209.9,292.1 211.1,297.5C212.3,302.9 212.3,300.6 212.6,305.7C212.9,310.8 213.6,309.1 212.1,312.9C210.6,316.7 210.7,314.0 208.0,317.0C205.3,320.0 206.6,319.5 203.9,322.0C201.2,324.5 202.3,321.1 199.9,324.6C197.5,328.1 197.9,325.9 196.6,332.5C195.3,339.1 195.9,336.4 195.9,344.3C195.9,352.2 195.7,348.7 196.6,356.1C197.5,363.5 196.6,360.5 198.6,366.6C200.6,372.7 200.0,369.7 202.5,374.5C205.0,379.3 203.9,376.5 206.1,381.1C208.3,385.7 207.5,383.5 209.2,388.3C210.9,393.1 210.9,390.3 211.2,395.4C211.5,400.5 210.4,398.5 210.2,403.6C210.0,408.7 209.7,405.7 210.7,410.8C211.7,415.9 211.5,414.2 213.2,418.9C214.9,423.6 215.1,422.3 215.8,425.0C216.5,427.7 216.2,423.6 215.3,427.0C214.4,430.4 214.9,429.4 213.2,435.2C211.5,441.0 212.2,438.9 210.2,444.4C208.2,449.9 209.8,447.2 207.1,451.6C204.4,456.0 205.7,454.5 202.0,457.7C198.3,460.9 201.3,459.6 195.9,461.3C190.5,463.0 192.5,462.5 185.7,462.8C178.9,463.1 181.5,461.3 175.4,462.3C169.3,463.3 174.1,464.4 167.3,465.9C160.5,467.4 161.0,466.1 155.0,466.9C149.0,467.7 153.9,468.1 149.2,468.4C144.5,468.7 144.4,469.3 141.0,467.9C137.6,466.5 141.0,466.0 139.0,464.3C137.0,462.6 136.9,462.3 134.9,462.8C132.9,463.3 135.3,464.5 132.9,465.9C130.5,467.3 131.2,467.6 127.8,466.9C124.4,466.2 127.1,465.8 122.7,463.8C118.3,461.8 120.3,462.5 114.5,460.8C108.7,459.1 110.4,461.1 105.3,458.7C100.2,456.3 100.9,458.0 99.2,453.6C97.5,449.2 98.9,450.5 100.2,445.4C101.5,440.3 100.8,441.8 103.2,438.3C105.6,434.8 105.4,438.2 107.3,435.0C109.2,431.8 107.5,432.6 108.9,428.8C110.3,425.0 108.2,426.8 111.4,423.7C114.6,420.6 113.8,422.7 118.6,419.6C123.4,416.5 122.6,417.9 125.7,414.5C128.8,411.1 126.1,412.5 127.8,409.4C129.5,406.3 127.7,407.7 130.8,405.3C133.9,402.9 132.2,404.3 137.0,402.3C141.8,400.3 139.7,401.1 145.1,399.2C150.5,397.3 148.6,398.2 153.3,396.6C158.0,395.0 155.1,395.8 159.1,394.4C163.1,393.0 161.1,393.8 165.2,392.4C169.3,391.0 168.1,392.4 171.3,390.3C174.5,388.2 174.2,388.9 174.9,386.2C175.6,383.5 175.9,384.6 173.4,382.2C170.9,379.8 172.1,381.5 167.3,379.1C162.5,376.7 162.3,377.4 159.1,375.0C155.9,372.6 160.0,376.4 157.8,371.9C155.6,367.4 156.1,368.4 152.6,361.4C149.1,354.4 151.2,358.3 147.3,350.8C143.4,343.3 145.2,346.4 140.8,339.0C136.4,331.6 137.7,335.5 134.2,328.5C130.7,321.5 132.8,324.6 130.3,318.0C127.8,311.4 128.8,314.5 126.8,308.6C124.8,302.7 125.3,305.8 124.3,300.2C123.3,294.6 123.0,297.4 123.8,291.8C124.6,286.2 123.0,286.5 126.8,283.4Z" fill="none" stroke="#a9d3a2" stroke-width="3.4" filter="url(#bl0)" clip-path="inset(455px 0 0 0)"/>
 <g filter="url(#bl1)">
  <path d="M137.0,285.5C139.3,284.3 142.0,283.7 145.0,286.5C148.0,289.3 144.8,289.5 146.0,294.0C147.2,298.5 147.8,296.0 148.5,300.0C149.2,304.0 149.5,302.3 148.0,306.0C146.5,309.7 147.0,310.2 144.0,311.0C141.0,311.8 141.8,310.0 139.0,308.5C136.2,307.0 137.3,306.0 135.5,306.5C133.7,307.0 135.3,310.2 133.5,310.0C131.7,309.8 130.8,309.7 130.0,306.0C129.2,302.3 128.8,302.7 131.0,299.0C133.2,295.3 134.2,298.0 136.5,295.0C138.8,292.0 137.8,293.2 138.0,290.0C138.2,286.8 134.7,286.7 137.0,285.5Z" fill="#d6f5fa"/>
  <path d="M144.7,287.3C145.4,285.1 143.9,286.6 147.3,285.8C150.7,285.0 149.6,284.8 154.9,284.8C160.2,284.8 159.4,284.1 163.1,285.8C166.8,287.5 163.7,288.6 166.1,290.0C168.5,291.4 167.1,290.5 170.2,290.0C173.3,289.5 171.2,288.9 175.3,288.4C179.4,287.9 177.4,287.9 182.5,288.4C187.6,288.9 187.0,287.5 190.7,289.9C194.4,292.3 192.2,291.2 193.7,295.5C195.2,299.8 194.3,297.9 195.3,302.7C196.3,307.5 196.0,305.7 196.8,309.8C197.6,313.9 197.9,312.2 197.8,314.9C197.7,317.6 197.2,314.3 196.6,318.0C196.0,321.7 196.6,320.6 195.9,325.9C195.2,331.2 196.3,329.0 194.6,333.8C192.9,338.6 193.8,335.9 190.7,340.3C187.6,344.7 188.9,342.1 185.4,346.9C181.9,351.7 183.0,349.5 180.2,354.8C177.4,360.1 178.9,357.4 176.9,362.7C174.9,368.0 176.5,366.6 174.3,370.6C172.1,374.6 173.6,375.3 170.3,374.8C167.0,374.3 168.1,373.2 164.4,369.2C160.7,365.2 162.7,367.9 159.2,362.7C155.7,357.5 157.4,360.1 153.9,353.5C150.4,346.9 152.6,350.0 148.7,343.0C144.8,336.0 146.1,338.6 142.1,332.5C138.1,326.4 139.3,329.4 136.8,324.6C134.3,319.8 135.3,321.9 134.5,318.0C133.7,314.1 134.0,316.5 134.5,312.9C135.0,309.3 134.3,308.7 136.0,307.3C137.7,305.9 136.7,307.5 139.6,308.8C142.5,310.1 141.8,312.3 144.7,311.3C147.6,310.3 147.3,310.3 148.3,305.7C149.3,301.1 148.8,301.9 147.8,297.5C146.8,293.1 146.2,295.8 145.2,292.4C144.2,289.0 144.0,289.5 144.7,287.3Z" fill="#a8e6fb" stroke="#b9ecfb" stroke-width="4" filter="url(#bl2)"/>
  <path d="M144.7,287.3C145.4,285.1 143.9,286.6 147.3,285.8C150.7,285.0 149.6,284.8 154.9,284.8C160.2,284.8 159.4,284.1 163.1,285.8C166.8,287.5 163.7,288.6 166.1,290.0C168.5,291.4 167.1,290.5 170.2,290.0C173.3,289.5 171.2,288.9 175.3,288.4C179.4,287.9 177.4,287.9 182.5,288.4C187.6,288.9 187.0,287.5 190.7,289.9C194.4,292.3 192.2,291.2 193.7,295.5C195.2,299.8 194.3,297.9 195.3,302.7C196.3,307.5 196.0,305.7 196.8,309.8C197.6,313.9 197.9,312.2 197.8,314.9C197.7,317.6 197.2,314.3 196.6,318.0C196.0,321.7 196.6,320.6 195.9,325.9C195.2,331.2 196.3,329.0 194.6,333.8C192.9,338.6 193.8,335.9 190.7,340.3C187.6,344.7 188.9,342.1 185.4,346.9C181.9,351.7 183.0,349.5 180.2,354.8C177.4,360.1 178.9,357.4 176.9,362.7C174.9,368.0 176.5,366.6 174.3,370.6C172.1,374.6 173.6,375.3 170.3,374.8C167.0,374.3 168.1,373.2 164.4,369.2C160.7,365.2 162.7,367.9 159.2,362.7C155.7,357.5 157.4,360.1 153.9,353.5C150.4,346.9 152.6,350.0 148.7,343.0C144.8,336.0 146.1,338.6 142.1,332.5C138.1,326.4 139.3,329.4 136.8,324.6C134.3,319.8 135.3,321.9 134.5,318.0C133.7,314.1 134.0,316.5 134.5,312.9C135.0,309.3 134.3,308.7 136.0,307.3C137.7,305.9 136.7,307.5 139.6,308.8C142.5,310.1 141.8,312.3 144.7,311.3C147.6,310.3 147.3,310.3 148.3,305.7C149.3,301.1 148.8,301.9 147.8,297.5C146.8,293.1 146.2,295.8 145.2,292.4C144.2,289.0 144.0,289.5 144.7,287.3Z" fill="#55b2f6" stroke="#8fdcfb" stroke-width="1.4"/>
 </g>
 <g filter="url(#bl2)">
  <path d="M150.0,290.0C153.8,287.5 156.3,288.5 163.0,289.5C169.7,290.5 163.7,292.3 170.0,293.0C176.3,293.7 175.7,291.3 182.0,291.5C188.3,291.7 186.2,290.0 189.0,293.5C191.8,297.0 189.8,295.8 190.5,302.0C191.2,308.2 191.3,304.7 191.0,312.0C190.7,319.3 191.2,316.7 189.5,324.0C187.8,331.3 189.0,327.7 186.0,334.0C183.0,340.3 184.2,337.0 180.5,343.0C176.8,349.0 178.2,346.7 175.0,352.0C171.8,357.3 173.5,356.3 171.0,359.0C168.5,361.7 170.5,361.7 167.5,360.0C164.5,358.3 165.8,359.0 162.0,354.0C158.2,349.0 160.0,351.0 156.0,345.0C152.0,339.0 153.8,341.7 150.0,336.0C146.2,330.3 147.8,333.0 144.5,328.0C141.2,323.0 141.7,325.3 140.0,321.0C138.3,316.7 138.2,317.2 139.5,315.0C140.8,312.8 140.7,315.5 144.0,314.5C147.3,313.5 146.8,315.2 149.5,312.0C152.2,308.8 151.3,310.0 152.0,305.0C152.7,300.0 152.2,302.0 151.5,297.0C150.8,292.0 146.2,292.5 150.0,290.0Z" fill="#3c8ff1"/>
 </g>
 <g filter="url(#bl2)">
  <path d="M154.9,290.9C155.9,288.5 156.9,289.5 160.0,290.4C163.1,291.3 161.4,290.4 164.1,293.5C166.8,296.6 165.5,296.7 168.2,299.6C170.9,302.5 168.9,301.9 172.3,302.1C175.7,302.3 176.2,302.8 178.4,300.1C180.6,297.4 176.9,296.6 178.9,294.0C180.9,291.4 180.6,292.8 184.5,292.4C188.4,292.0 188.8,290.8 190.7,292.9C192.6,295.0 191.1,294.7 190.1,298.6C189.1,302.5 189.8,301.6 187.6,304.7C185.4,307.8 185.0,304.4 183.5,307.8C182.0,311.2 183.3,310.2 183.0,314.9C182.7,319.6 183.4,316.9 182.5,321.9C181.6,326.9 182.7,325.0 180.2,329.8C177.7,334.6 178.8,333.3 174.9,336.4C171.0,339.5 172.8,339.4 168.4,339.0C164.0,338.6 165.8,338.6 161.8,335.1C157.8,331.6 160.4,330.7 156.5,328.5C152.6,326.3 153.9,329.8 150.0,328.5C146.1,327.2 147.0,327.4 144.7,324.6C142.4,321.8 143.0,322.9 143.0,320.0C143.0,317.1 142.1,319.0 144.7,315.9C147.3,312.8 146.7,313.5 150.8,310.8C154.9,308.1 154.1,309.8 157.0,307.8C159.9,305.8 159.5,308.1 159.5,304.7C159.5,301.3 158.5,302.1 157.0,297.5C155.5,292.9 153.9,293.3 154.9,290.9Z" fill="#2f74ec"/>
 </g>
 <g filter="url(#bl3)">
  <path d="M146.0,314.0C149.7,311.3 150.7,310.7 156.0,312.0C161.3,313.3 161.3,313.7 162.0,318.0C162.7,322.3 162.3,322.3 158.0,325.0C153.7,327.7 153.3,327.7 149.0,326.0C144.7,324.3 146.0,324.0 145.0,320.0C144.0,316.0 142.3,316.7 146.0,314.0Z" fill="#2150e0"/>
  <path d="M160.0,343.0C162.0,338.7 164.3,338.7 168.0,341.0C171.7,343.3 171.0,344.3 171.0,350.0C171.0,355.7 171.0,356.7 168.0,358.0C165.0,359.3 164.7,359.0 162.0,354.0C159.3,349.0 158.0,347.3 160.0,343.0Z" fill="#2456e2"/>
 </g>
 <path d="M126.8,283.4C130.6,280.3 126.8,283.4 135.2,282.6C143.6,281.8 143.7,281.2 152.0,280.9C160.3,280.6 153.2,281.1 160.0,281.7C166.8,282.3 166.3,281.7 172.3,282.7C178.3,283.7 174.5,284.8 177.9,284.8C181.3,284.8 178.2,283.7 182.5,282.7C186.8,281.7 185.3,282.0 190.7,281.7C196.1,281.4 194.0,280.8 198.8,281.7C203.6,282.6 201.6,281.7 205.0,284.3C208.4,286.9 207.0,285.0 209.0,289.4C211.0,293.8 209.9,292.1 211.1,297.5C212.3,302.9 212.3,300.6 212.6,305.7C212.9,310.8 213.6,309.1 212.1,312.9C210.6,316.7 210.7,314.0 208.0,317.0C205.3,320.0 206.6,319.5 203.9,322.0C201.2,324.5 202.3,321.1 199.9,324.6C197.5,328.1 197.9,325.9 196.6,332.5C195.3,339.1 195.9,336.4 195.9,344.3C195.9,352.2 195.7,348.7 196.6,356.1C197.5,363.5 196.6,360.5 198.6,366.6C200.6,372.7 200.0,369.7 202.5,374.5C205.0,379.3 203.9,376.5 206.1,381.1C208.3,385.7 207.5,383.5 209.2,388.3C210.9,393.1 210.9,390.3 211.2,395.4C211.5,400.5 210.4,398.5 210.2,403.6C210.0,408.7 209.7,405.7 210.7,410.8C211.7,415.9 211.5,414.2 213.2,418.9C214.9,423.6 215.1,422.3 215.8,425.0C216.5,427.7 216.2,423.6 215.3,427.0C214.4,430.4 214.9,429.4 213.2,435.2C211.5,441.0 212.2,438.9 210.2,444.4C208.2,449.9 209.8,447.2 207.1,451.6C204.4,456.0 205.7,454.5 202.0,457.7C198.3,460.9 201.3,459.6 195.9,461.3C190.5,463.0 192.5,462.5 185.7,462.8C178.9,463.1 181.5,461.3 175.4,462.3C169.3,463.3 174.1,464.4 167.3,465.9C160.5,467.4 161.0,466.1 155.0,466.9C149.0,467.7 153.9,468.1 149.2,468.4C144.5,468.7 144.4,469.3 141.0,467.9C137.6,466.5 141.0,466.0 139.0,464.3C137.0,462.6 136.9,462.3 134.9,462.8C132.9,463.3 135.3,464.5 132.9,465.9C130.5,467.3 131.2,467.6 127.8,466.9C124.4,466.2 127.1,465.8 122.7,463.8C118.3,461.8 120.3,462.5 114.5,460.8C108.7,459.1 110.4,461.1 105.3,458.7C100.2,456.3 100.9,458.0 99.2,453.6C97.5,449.2 98.9,450.5 100.2,445.4C101.5,440.3 100.8,441.8 103.2,438.3C105.6,434.8 105.4,438.2 107.3,435.0C109.2,431.8 107.5,432.6 108.9,428.8C110.3,425.0 108.2,426.8 111.4,423.7C114.6,420.6 113.8,422.7 118.6,419.6C123.4,416.5 122.6,417.9 125.7,414.5C128.8,411.1 126.1,412.5 127.8,409.4C129.5,406.3 127.7,407.7 130.8,405.3C133.9,402.9 132.2,404.3 137.0,402.3C141.8,400.3 139.7,401.1 145.1,399.2C150.5,397.3 148.6,398.2 153.3,396.6C158.0,395.0 155.1,395.8 159.1,394.4C163.1,393.0 161.1,393.8 165.2,392.4C169.3,391.0 168.1,392.4 171.3,390.3C174.5,388.2 174.2,388.9 174.9,386.2C175.6,383.5 175.9,384.6 173.4,382.2C170.9,379.8 172.1,381.5 167.3,379.1C162.5,376.7 162.3,377.4 159.1,375.0C155.9,372.6 160.0,376.4 157.8,371.9C155.6,367.4 156.1,368.4 152.6,361.4C149.1,354.4 151.2,358.3 147.3,350.8C143.4,343.3 145.2,346.4 140.8,339.0C136.4,331.6 137.7,335.5 134.2,328.5C130.7,321.5 132.8,324.6 130.3,318.0C127.8,311.4 128.8,314.5 126.8,308.6C124.8,302.7 125.3,305.8 124.3,300.2C123.3,294.6 123.0,297.4 123.8,291.8C124.6,286.2 123.0,286.5 126.8,283.4Z" fill="none" stroke="#c39a2a" stroke-width="2.8" clip-path="url(#upperC)"/>
 <path d="M126.8,283.4C130.6,280.3 126.8,283.4 135.2,282.6C143.6,281.8 143.7,281.2 152.0,280.9C160.3,280.6 153.2,281.1 160.0,281.7C166.8,282.3 166.3,281.7 172.3,282.7C178.3,283.7 174.5,284.8 177.9,284.8C181.3,284.8 178.2,283.7 182.5,282.7C186.8,281.7 185.3,282.0 190.7,281.7C196.1,281.4 194.0,280.8 198.8,281.7C203.6,282.6 201.6,281.7 205.0,284.3C208.4,286.9 207.0,285.0 209.0,289.4C211.0,293.8 209.9,292.1 211.1,297.5C212.3,302.9 212.3,300.6 212.6,305.7C212.9,310.8 213.6,309.1 212.1,312.9C210.6,316.7 210.7,314.0 208.0,317.0C205.3,320.0 206.6,319.5 203.9,322.0C201.2,324.5 202.3,321.1 199.9,324.6C197.5,328.1 197.9,325.9 196.6,332.5C195.3,339.1 195.9,336.4 195.9,344.3C195.9,352.2 195.7,348.7 196.6,356.1C197.5,363.5 196.6,360.5 198.6,366.6C200.6,372.7 200.0,369.7 202.5,374.5C205.0,379.3 203.9,376.5 206.1,381.1C208.3,385.7 207.5,383.5 209.2,388.3C210.9,393.1 210.9,390.3 211.2,395.4C211.5,400.5 210.4,398.5 210.2,403.6C210.0,408.7 209.7,405.7 210.7,410.8C211.7,415.9 211.5,414.2 213.2,418.9C214.9,423.6 215.1,422.3 215.8,425.0C216.5,427.7 216.2,423.6 215.3,427.0C214.4,430.4 214.9,429.4 213.2,435.2C211.5,441.0 212.2,438.9 210.2,444.4C208.2,449.9 209.8,447.2 207.1,451.6C204.4,456.0 205.7,454.5 202.0,457.7C198.3,460.9 201.3,459.6 195.9,461.3C190.5,463.0 192.5,462.5 185.7,462.8C178.9,463.1 181.5,461.3 175.4,462.3C169.3,463.3 174.1,464.4 167.3,465.9C160.5,467.4 161.0,466.1 155.0,466.9C149.0,467.7 153.9,468.1 149.2,468.4C144.5,468.7 144.4,469.3 141.0,467.9C137.6,466.5 141.0,466.0 139.0,464.3C137.0,462.6 136.9,462.3 134.9,462.8C132.9,463.3 135.3,464.5 132.9,465.9C130.5,467.3 131.2,467.6 127.8,466.9C124.4,466.2 127.1,465.8 122.7,463.8C118.3,461.8 120.3,462.5 114.5,460.8C108.7,459.1 110.4,461.1 105.3,458.7C100.2,456.3 100.9,458.0 99.2,453.6C97.5,449.2 98.9,450.5 100.2,445.4C101.5,440.3 100.8,441.8 103.2,438.3C105.6,434.8 105.4,438.2 107.3,435.0C109.2,431.8 107.5,432.6 108.9,428.8C110.3,425.0 108.2,426.8 111.4,423.7C114.6,420.6 113.8,422.7 118.6,419.6C123.4,416.5 122.6,417.9 125.7,414.5C128.8,411.1 126.1,412.5 127.8,409.4C129.5,406.3 127.7,407.7 130.8,405.3C133.9,402.9 132.2,404.3 137.0,402.3C141.8,400.3 139.7,401.1 145.1,399.2C150.5,397.3 148.6,398.2 153.3,396.6C158.0,395.0 155.1,395.8 159.1,394.4C163.1,393.0 161.1,393.8 165.2,392.4C169.3,391.0 168.1,392.4 171.3,390.3C174.5,388.2 174.2,388.9 174.9,386.2C175.6,383.5 175.9,384.6 173.4,382.2C170.9,379.8 172.1,381.5 167.3,379.1C162.5,376.7 162.3,377.4 159.1,375.0C155.9,372.6 160.0,376.4 157.8,371.9C155.6,367.4 156.1,368.4 152.6,361.4C149.1,354.4 151.2,358.3 147.3,350.8C143.4,343.3 145.2,346.4 140.8,339.0C136.4,331.6 137.7,335.5 134.2,328.5C130.7,321.5 132.8,324.6 130.3,318.0C127.8,311.4 128.8,314.5 126.8,308.6C124.8,302.7 125.3,305.8 124.3,300.2C123.3,294.6 123.0,297.4 123.8,291.8C124.6,286.2 123.0,286.5 126.8,283.4Z" fill="none" stroke="#e9c630" stroke-width="3.6" clip-path="url(#neC)"/>
 <path d="M126.8,283.4C130.6,280.3 126.8,283.4 135.2,282.6C143.6,281.8 143.7,281.2 152.0,280.9C160.3,280.6 153.2,281.1 160.0,281.7C166.8,282.3 166.3,281.7 172.3,282.7C178.3,283.7 174.5,284.8 177.9,284.8C181.3,284.8 178.2,283.7 182.5,282.7C186.8,281.7 185.3,282.0 190.7,281.7C196.1,281.4 194.0,280.8 198.8,281.7C203.6,282.6 201.6,281.7 205.0,284.3C208.4,286.9 207.0,285.0 209.0,289.4C211.0,293.8 209.9,292.1 211.1,297.5C212.3,302.9 212.3,300.6 212.6,305.7C212.9,310.8 213.6,309.1 212.1,312.9C210.6,316.7 210.7,314.0 208.0,317.0C205.3,320.0 206.6,319.5 203.9,322.0C201.2,324.5 202.3,321.1 199.9,324.6C197.5,328.1 197.9,325.9 196.6,332.5C195.3,339.1 195.9,336.4 195.9,344.3C195.9,352.2 195.7,348.7 196.6,356.1C197.5,363.5 196.6,360.5 198.6,366.6C200.6,372.7 200.0,369.7 202.5,374.5C205.0,379.3 203.9,376.5 206.1,381.1C208.3,385.7 207.5,383.5 209.2,388.3C210.9,393.1 210.9,390.3 211.2,395.4C211.5,400.5 210.4,398.5 210.2,403.6C210.0,408.7 209.7,405.7 210.7,410.8C211.7,415.9 211.5,414.2 213.2,418.9C214.9,423.6 215.1,422.3 215.8,425.0C216.5,427.7 216.2,423.6 215.3,427.0C214.4,430.4 214.9,429.4 213.2,435.2C211.5,441.0 212.2,438.9 210.2,444.4C208.2,449.9 209.8,447.2 207.1,451.6C204.4,456.0 205.7,454.5 202.0,457.7C198.3,460.9 201.3,459.6 195.9,461.3C190.5,463.0 192.5,462.5 185.7,462.8C178.9,463.1 181.5,461.3 175.4,462.3C169.3,463.3 174.1,464.4 167.3,465.9C160.5,467.4 161.0,466.1 155.0,466.9C149.0,467.7 153.9,468.1 149.2,468.4C144.5,468.7 144.4,469.3 141.0,467.9C137.6,466.5 141.0,466.0 139.0,464.3C137.0,462.6 136.9,462.3 134.9,462.8C132.9,463.3 135.3,464.5 132.9,465.9C130.5,467.3 131.2,467.6 127.8,466.9C124.4,466.2 127.1,465.8 122.7,463.8C118.3,461.8 120.3,462.5 114.5,460.8C108.7,459.1 110.4,461.1 105.3,458.7C100.2,456.3 100.9,458.0 99.2,453.6C97.5,449.2 98.9,450.5 100.2,445.4C101.5,440.3 100.8,441.8 103.2,438.3C105.6,434.8 105.4,438.2 107.3,435.0C109.2,431.8 107.5,432.6 108.9,428.8C110.3,425.0 108.2,426.8 111.4,423.7C114.6,420.6 113.8,422.7 118.6,419.6C123.4,416.5 122.6,417.9 125.7,414.5C128.8,411.1 126.1,412.5 127.8,409.4C129.5,406.3 127.7,407.7 130.8,405.3C133.9,402.9 132.2,404.3 137.0,402.3C141.8,400.3 139.7,401.1 145.1,399.2C150.5,397.3 148.6,398.2 153.3,396.6C158.0,395.0 155.1,395.8 159.1,394.4C163.1,393.0 161.1,393.8 165.2,392.4C169.3,391.0 168.1,392.4 171.3,390.3C174.5,388.2 174.2,388.9 174.9,386.2C175.6,383.5 175.9,384.6 173.4,382.2C170.9,379.8 172.1,381.5 167.3,379.1C162.5,376.7 162.3,377.4 159.1,375.0C155.9,372.6 160.0,376.4 157.8,371.9C155.6,367.4 156.1,368.4 152.6,361.4C149.1,354.4 151.2,358.3 147.3,350.8C143.4,343.3 145.2,346.4 140.8,339.0C136.4,331.6 137.7,335.5 134.2,328.5C130.7,321.5 132.8,324.6 130.3,318.0C127.8,311.4 128.8,314.5 126.8,308.6C124.8,302.7 125.3,305.8 124.3,300.2C123.3,294.6 123.0,297.4 123.8,291.8C124.6,286.2 123.0,286.5 126.8,283.4Z" fill="none" stroke="#aed6a6" stroke-width="4.4" clip-path="url(#lowerC)"/>
</g>
<g fill="none" stroke="#77776f" stroke-width="0.6" stroke-linejoin="round">
 <path d="M127.5,286.0C127.3,288.3 126.8,288.0 127.0,293.0C127.2,298.0 126.7,295.3 128.0,301.0C129.3,306.7 128.7,303.7 131.0,310.0C133.3,316.3 132.3,313.7 135.0,320.0C137.7,326.3 135.7,322.5 139.0,329.0C142.3,335.5 141.0,332.3 145.0,339.5C149.0,346.7 147.3,343.3 151.0,350.5C154.7,357.7 152.7,354.2 156.0,361.0C159.3,367.8 157.0,365.7 161.0,371.0C165.0,376.3 163.3,373.7 168.0,377.0C172.7,380.3 171.5,378.3 175.0,381.0C178.5,383.7 177.8,382.2 178.5,385.0C179.2,387.8 177.5,388.0 177.0,389.5"/>
 <path d="M129.5,286.0C129.5,288.3 129.2,288.0 129.5,293.0C129.8,298.0 129.2,295.3 130.5,301.0C131.8,306.7 131.2,303.7 133.5,310.0C135.8,316.3 134.8,313.7 137.5,320.0C140.2,326.3 138.2,322.5 141.5,329.0C144.8,335.5 143.5,332.3 147.5,339.5C151.5,346.7 149.8,343.3 153.5,350.5C157.2,357.7 155.2,354.5 158.5,361.0C161.8,367.5 159.7,365.2 163.5,370.0C167.3,374.8 165.5,372.3 170.0,375.5C174.5,378.7 173.3,376.3 177.0,379.5C180.7,382.7 180.3,381.3 181.0,385.0C181.7,388.7 179.7,388.7 179.0,390.5"/>
 <path d="M192.0,284.5C193.7,286.0 194.5,285.2 197.0,289.0C199.5,292.8 198.3,291.0 199.5,296.0C200.7,301.0 199.7,298.7 200.5,304.0C201.3,309.3 200.8,308.0 202.0,312.0C203.2,316.0 204.2,313.0 204.0,316.0C203.8,319.0 203.5,317.7 201.5,321.0C199.5,324.3 199.2,324.3 198.0,326.0"/>
 <path d="M189.0,285.0C190.8,286.7 191.8,286.0 194.5,290.0C197.2,294.0 195.8,292.0 197.0,297.0C198.2,302.0 197.2,300.0 198.0,305.0C198.8,310.0 198.5,308.3 199.5,312.0C200.5,315.7 201.2,313.3 201.0,316.0C200.8,318.7 200.7,317.0 199.0,320.0C197.3,323.0 197.3,321.0 196.0,325.0C194.7,329.0 195.3,329.7 195.0,332.0"/>
 <path d="M131.0,285.3C134.0,285.0 133.0,285.1 140.0,284.3C147.0,283.5 143.7,283.3 152.0,283.0C160.3,282.7 158.3,282.9 165.0,283.5C171.7,284.1 167.7,283.6 172.0,284.8C176.3,286.0 174.3,287.0 178.0,287.0C181.7,287.0 179.0,285.7 183.0,284.8C187.0,283.9 187.7,284.5 190.0,284.3"/>
</g>
<g fill="none" stroke="#3c3c34" stroke-width="0.6" stroke-linejoin="round">
 <path d="M144.7,287.3C145.4,285.1 143.9,286.6 147.3,285.8C150.7,285.0 149.6,284.8 154.9,284.8C160.2,284.8 159.4,284.1 163.1,285.8C166.8,287.5 163.7,288.6 166.1,290.0C168.5,291.4 167.1,290.5 170.2,290.0C173.3,289.5 171.2,288.9 175.3,288.4C179.4,287.9 177.4,287.9 182.5,288.4C187.6,288.9 187.0,287.5 190.7,289.9C194.4,292.3 192.2,291.2 193.7,295.5C195.2,299.8 194.3,297.9 195.3,302.7C196.3,307.5 196.0,305.7 196.8,309.8C197.6,313.9 197.9,312.2 197.8,314.9C197.7,317.6 197.2,314.3 196.6,318.0C196.0,321.7 196.6,320.6 195.9,325.9C195.2,331.2 196.3,329.0 194.6,333.8C192.9,338.6 193.8,335.9 190.7,340.3C187.6,344.7 188.9,342.1 185.4,346.9C181.9,351.7 183.0,349.5 180.2,354.8C177.4,360.1 178.9,357.4 176.9,362.7C174.9,368.0 176.5,366.6 174.3,370.6C172.1,374.6 173.6,375.3 170.3,374.8C167.0,374.3 168.1,373.2 164.4,369.2C160.7,365.2 162.7,367.9 159.2,362.7C155.7,357.5 157.4,360.1 153.9,353.5C150.4,346.9 152.6,350.0 148.7,343.0C144.8,336.0 146.1,338.6 142.1,332.5C138.1,326.4 139.3,329.4 136.8,324.6C134.3,319.8 135.3,321.9 134.5,318.0C133.7,314.1 134.0,316.5 134.5,312.9C135.0,309.3 134.3,308.7 136.0,307.3C137.7,305.9 136.7,307.5 139.6,308.8C142.5,310.1 141.8,312.3 144.7,311.3C147.6,310.3 147.3,310.3 148.3,305.7C149.3,301.1 148.8,301.9 147.8,297.5C146.8,293.1 146.2,295.8 145.2,292.4C144.2,289.0 144.0,289.5 144.7,287.3Z"/>
 <path d="M154.9,290.9C155.9,288.5 156.9,289.5 160.0,290.4C163.1,291.3 161.4,290.4 164.1,293.5C166.8,296.6 165.5,296.7 168.2,299.6C170.9,302.5 168.9,301.9 172.3,302.1C175.7,302.3 176.2,302.8 178.4,300.1C180.6,297.4 176.9,296.6 178.9,294.0C180.9,291.4 180.6,292.8 184.5,292.4C188.4,292.0 188.8,290.8 190.7,292.9C192.6,295.0 191.1,294.7 190.1,298.6C189.1,302.5 189.8,301.6 187.6,304.7C185.4,307.8 185.0,304.4 183.5,307.8C182.0,311.2 183.3,310.2 183.0,314.9C182.7,319.6 183.4,316.9 182.5,321.9C181.6,326.9 182.7,325.0 180.2,329.8C177.7,334.6 178.8,333.3 174.9,336.4C171.0,339.5 172.8,339.4 168.4,339.0C164.0,338.6 165.8,338.6 161.8,335.1C157.8,331.6 160.4,330.7 156.5,328.5C152.6,326.3 153.9,329.8 150.0,328.5C146.1,327.2 147.0,327.4 144.7,324.6C142.4,321.8 143.0,322.9 143.0,320.0C143.0,317.1 142.1,319.0 144.7,315.9C147.3,312.8 146.7,313.5 150.8,310.8C154.9,308.1 154.1,309.8 157.0,307.8C159.9,305.8 159.5,308.1 159.5,304.7C159.5,301.3 158.5,302.1 157.0,297.5C155.5,292.9 153.9,293.3 154.9,290.9Z"/>
 <path d="M192.8,375.0C193.1,377.7 194.5,379.5 193.8,383.2C193.1,386.9 192.8,385.4 190.8,386.2C188.8,387.0 188.4,384.3 187.7,385.7C187.0,387.1 187.0,387.1 188.7,390.3C190.4,393.5 191.3,391.6 192.8,395.4C194.3,399.2 194.3,397.2 193.3,401.6C192.3,406.0 193.3,404.6 189.7,408.7C186.1,412.8 187.4,411.4 182.6,413.8C177.8,416.2 179.8,414.9 175.4,415.9C171.0,416.9 172.5,417.9 169.3,416.9C166.1,415.9 166.7,416.2 165.7,412.8C164.7,409.4 164.7,410.4 166.2,406.7C167.7,403.0 168.6,405.4 170.3,401.6C172.0,397.8 168.9,399.5 171.3,395.4C173.7,391.3 174.8,392.7 177.5,389.3C180.2,385.9 178.8,386.6 179.5,385.2"/>
 <path d="M193.3,336.4C192.0,340.3 191.6,341.6 189.4,348.2C187.2,354.8 187.2,351.3 186.8,356.1C186.4,360.9 186.4,357.9 188.1,362.7C189.8,367.5 190.4,366.5 192.0,370.6C193.6,374.7 192.5,373.5 192.8,375.0"/>
 <path d="M212.0,398.6C210.7,403.7 212.3,404.8 208.0,413.9C203.7,423.0 205.8,419.8 199.2,426.0C192.6,432.2 195.9,430.0 188.2,432.6C180.5,435.2 181.6,431.1 176.1,433.7C170.6,436.3 175.4,438.1 171.8,440.3C168.2,442.5 168.9,442.5 165.2,440.3C161.5,438.1 161.2,437.4 160.8,433.7C160.4,430.0 164.8,432.6 164.1,429.3C163.4,426.0 161.5,427.8 158.6,423.8C155.7,419.8 157.9,417.2 155.3,417.2C152.7,417.2 153.5,419.8 150.9,423.8C148.3,427.8 150.2,425.3 147.6,429.3C145.0,433.3 146.5,435.2 143.2,435.9C139.9,436.6 140.6,431.5 137.7,431.5C134.8,431.5 137.3,435.5 134.4,435.9C131.5,436.3 131.8,432.6 128.9,432.6C126.0,432.6 128.5,435.5 125.6,435.9C122.7,436.3 122.7,435.9 120.1,433.7C117.5,431.5 117.0,432.3 117.9,429.3C118.8,426.3 118.7,427.6 122.7,424.7C126.7,421.8 126.1,422.6 129.8,420.7C133.5,418.8 133.6,421.2 133.9,419.1C134.2,417.0 131.7,417.7 130.8,414.5C129.9,411.3 129.9,412.5 131.3,409.4C132.7,406.3 131.0,407.0 134.9,405.3C138.8,403.6 139.0,403.8 143.1,404.3C147.2,404.8 144.1,407.6 147.2,406.9C150.3,406.2 148.9,404.2 152.3,402.3C155.7,400.4 155.4,400.2 157.4,401.2C159.4,402.2 159.4,402.9 158.4,405.3C157.4,407.7 155.3,406.3 154.3,408.4C153.3,410.5 155.0,410.5 155.4,411.5"/>
 <path d="M160.0,415.0C159.5,416.3 157.8,417.0 158.5,419.0C159.2,421.0 160.8,420.3 162.0,421.0"/>
 <path d="M135.0,286.0C135.8,287.3 137.2,287.0 137.5,290.0C137.8,293.0 138.2,292.3 136.0,295.0C133.8,297.7 132.8,295.3 131.0,298.0C129.2,300.7 131.3,300.7 130.5,303.0C129.7,305.3 129.2,304.3 128.5,305.0"/>
 <path d="M195.5,283.5C197.2,284.5 197.5,283.7 200.5,286.5C203.5,289.3 202.5,287.8 204.5,292.0C206.5,296.2 205.3,294.3 206.5,299.0C207.7,303.7 206.7,301.8 208.0,306.0C209.3,310.2 209.7,309.7 210.5,311.5"/>
 <path d="M194.0,285.0C195.7,286.3 196.3,285.7 199.0,289.0C201.7,292.3 200.5,290.7 202.0,295.0C203.5,299.3 202.3,297.3 203.5,302.0C204.7,306.7 203.7,304.8 205.5,309.0C207.3,313.2 207.8,312.7 209.0,314.5"/>
 <path d="M108.9,442.4C109.1,443.8 106.9,444.1 109.4,446.5C111.9,448.9 112.1,448.7 116.5,449.5C120.9,450.3 118.3,449.5 122.7,449.0C127.1,448.5 125.4,447.7 129.8,448.0C134.2,448.3 132.2,450.3 135.9,450.0C139.6,449.7 136.6,449.0 141.0,447.0C145.4,445.0 145.1,446.5 149.2,443.9C153.3,441.3 150.6,439.8 153.3,439.3C156.0,438.8 155.5,440.4 157.4,442.4C159.3,444.4 155.8,443.9 159.1,445.4C162.4,446.9 161.9,447.2 167.3,447.0C172.7,446.8 169.3,445.1 175.4,444.9C181.5,444.7 179.6,447.7 185.7,446.5C191.8,445.3 189.4,444.7 193.8,441.3C198.2,437.9 195.8,439.9 198.9,436.2C202.0,432.5 199.9,431.8 203.0,430.1C206.1,428.4 205.0,431.8 208.1,431.1C211.2,430.4 209.8,430.1 212.2,428.1C214.6,426.1 214.3,426.0 215.3,425.0"/>
 <path d="M102.2,443.4C102.5,446.1 99.8,447.5 103.2,451.6C106.6,455.7 105.9,454.3 112.4,455.7C118.9,457.1 116.6,455.0 122.7,455.7C128.8,456.4 124.7,457.0 130.8,457.7C136.9,458.4 134.9,457.4 141.0,457.7C147.1,458.0 143.7,457.5 149.2,458.7C154.7,459.9 152.1,461.3 157.4,461.3C162.7,461.3 160.6,461.1 165.2,458.7C169.8,456.3 167.9,456.1 171.3,454.1C174.7,452.1 172.7,452.1 175.4,452.6C178.1,453.1 175.4,454.2 179.5,455.7C183.6,457.2 182.2,457.6 187.7,457.2C193.2,456.8 191.8,456.8 195.9,454.6C200.0,452.4 198.3,453.2 200.0,450.5C201.7,447.8 199.0,449.9 201.0,446.5C203.0,443.1 203.0,444.4 206.1,440.3C209.2,436.2 207.6,437.9 210.2,434.2C212.8,430.5 212.6,430.8 213.8,429.1"/>
</g>
<path d="M126.8,283.4C130.6,280.3 126.8,283.4 135.2,282.6C143.6,281.8 143.7,281.2 152.0,280.9C160.3,280.6 153.2,281.1 160.0,281.7C166.8,282.3 166.3,281.7 172.3,282.7C178.3,283.7 174.5,284.8 177.9,284.8C181.3,284.8 178.2,283.7 182.5,282.7C186.8,281.7 185.3,282.0 190.7,281.7C196.1,281.4 194.0,280.8 198.8,281.7C203.6,282.6 201.6,281.7 205.0,284.3C208.4,286.9 207.0,285.0 209.0,289.4C211.0,293.8 209.9,292.1 211.1,297.5C212.3,302.9 212.3,300.6 212.6,305.7C212.9,310.8 213.6,309.1 212.1,312.9C210.6,316.7 210.7,314.0 208.0,317.0C205.3,320.0 206.6,319.5 203.9,322.0C201.2,324.5 202.3,321.1 199.9,324.6C197.5,328.1 197.9,325.9 196.6,332.5C195.3,339.1 195.9,336.4 195.9,344.3C195.9,352.2 195.7,348.7 196.6,356.1C197.5,363.5 196.6,360.5 198.6,366.6C200.6,372.7 200.0,369.7 202.5,374.5C205.0,379.3 203.9,376.5 206.1,381.1C208.3,385.7 207.5,383.5 209.2,388.3C210.9,393.1 210.9,390.3 211.2,395.4C211.5,400.5 210.4,398.5 210.2,403.6C210.0,408.7 209.7,405.7 210.7,410.8C211.7,415.9 211.5,414.2 213.2,418.9C214.9,423.6 215.1,422.3 215.8,425.0C216.5,427.7 216.2,423.6 215.3,427.0C214.4,430.4 214.9,429.4 213.2,435.2C211.5,441.0 212.2,438.9 210.2,444.4C208.2,449.9 209.8,447.2 207.1,451.6C204.4,456.0 205.7,454.5 202.0,457.7C198.3,460.9 201.3,459.6 195.9,461.3C190.5,463.0 192.5,462.5 185.7,462.8C178.9,463.1 181.5,461.3 175.4,462.3C169.3,463.3 174.1,464.4 167.3,465.9C160.5,467.4 161.0,466.1 155.0,466.9C149.0,467.7 153.9,468.1 149.2,468.4C144.5,468.7 144.4,469.3 141.0,467.9C137.6,466.5 141.0,466.0 139.0,464.3C137.0,462.6 136.9,462.3 134.9,462.8C132.9,463.3 135.3,464.5 132.9,465.9C130.5,467.3 131.2,467.6 127.8,466.9C124.4,466.2 127.1,465.8 122.7,463.8C118.3,461.8 120.3,462.5 114.5,460.8C108.7,459.1 110.4,461.1 105.3,458.7C100.2,456.3 100.9,458.0 99.2,453.6C97.5,449.2 98.9,450.5 100.2,445.4C101.5,440.3 100.8,441.8 103.2,438.3C105.6,434.8 105.4,438.2 107.3,435.0C109.2,431.8 107.5,432.6 108.9,428.8C110.3,425.0 108.2,426.8 111.4,423.7C114.6,420.6 113.8,422.7 118.6,419.6C123.4,416.5 122.6,417.9 125.7,414.5C128.8,411.1 126.1,412.5 127.8,409.4C129.5,406.3 127.7,407.7 130.8,405.3C133.9,402.9 132.2,404.3 137.0,402.3C141.8,400.3 139.7,401.1 145.1,399.2C150.5,397.3 148.6,398.2 153.3,396.6C158.0,395.0 155.1,395.8 159.1,394.4C163.1,393.0 161.1,393.8 165.2,392.4C169.3,391.0 168.1,392.4 171.3,390.3C174.5,388.2 174.2,388.9 174.9,386.2C175.6,383.5 175.9,384.6 173.4,382.2C170.9,379.8 172.1,381.5 167.3,379.1C162.5,376.7 162.3,377.4 159.1,375.0C155.9,372.6 160.0,376.4 157.8,371.9C155.6,367.4 156.1,368.4 152.6,361.4C149.1,354.4 151.2,358.3 147.3,350.8C143.4,343.3 145.2,346.4 140.8,339.0C136.4,331.6 137.7,335.5 134.2,328.5C130.7,321.5 132.8,324.6 130.3,318.0C127.8,311.4 128.8,314.5 126.8,308.6C124.8,302.7 125.3,305.8 124.3,300.2C123.3,294.6 123.0,297.4 123.8,291.8C124.6,286.2 123.0,286.5 126.8,283.4Z" fill="none" stroke="#4c4a30" stroke-width="1" stroke-linejoin="round"/>
<path d="M126.8,283.4C130.6,280.3 126.8,283.4 135.2,282.6C143.6,281.8 143.7,281.2 152.0,280.9C160.3,280.6 153.2,281.1 160.0,281.7C166.8,282.3 166.3,281.7 172.3,282.7C178.3,283.7 174.5,284.8 177.9,284.8C181.3,284.8 178.2,283.7 182.5,282.7C186.8,281.7 185.3,282.0 190.7,281.7C196.1,281.4 194.0,280.8 198.8,281.7C203.6,282.6 201.6,281.7 205.0,284.3C208.4,286.9 207.0,285.0 209.0,289.4C211.0,293.8 209.9,292.1 211.1,297.5C212.3,302.9 212.3,300.6 212.6,305.7C212.9,310.8 213.6,309.1 212.1,312.9C210.6,316.7 210.7,314.0 208.0,317.0C205.3,320.0 206.6,319.5 203.9,322.0C201.2,324.5 202.3,321.1 199.9,324.6C197.5,328.1 197.9,325.9 196.6,332.5C195.3,339.1 195.9,336.4 195.9,344.3C195.9,352.2 195.7,348.7 196.6,356.1C197.5,363.5 196.6,360.5 198.6,366.6C200.6,372.7 200.0,369.7 202.5,374.5C205.0,379.3 203.9,376.5 206.1,381.1C208.3,385.7 207.5,383.5 209.2,388.3C210.9,393.1 210.9,390.3 211.2,395.4C211.5,400.5 210.4,398.5 210.2,403.6C210.0,408.7 209.7,405.7 210.7,410.8C211.7,415.9 211.5,414.2 213.2,418.9C214.9,423.6 215.1,422.3 215.8,425.0C216.5,427.7 216.2,423.6 215.3,427.0C214.4,430.4 214.9,429.4 213.2,435.2C211.5,441.0 212.2,438.9 210.2,444.4C208.2,449.9 209.8,447.2 207.1,451.6C204.4,456.0 205.7,454.5 202.0,457.7C198.3,460.9 201.3,459.6 195.9,461.3C190.5,463.0 192.5,462.5 185.7,462.8C178.9,463.1 181.5,461.3 175.4,462.3C169.3,463.3 174.1,464.4 167.3,465.9C160.5,467.4 161.0,466.1 155.0,466.9C149.0,467.7 153.9,468.1 149.2,468.4C144.5,468.7 144.4,469.3 141.0,467.9C137.6,466.5 141.0,466.0 139.0,464.3C137.0,462.6 136.9,462.3 134.9,462.8C132.9,463.3 135.3,464.5 132.9,465.9C130.5,467.3 131.2,467.6 127.8,466.9C124.4,466.2 127.1,465.8 122.7,463.8C118.3,461.8 120.3,462.5 114.5,460.8C108.7,459.1 110.4,461.1 105.3,458.7C100.2,456.3 100.9,458.0 99.2,453.6C97.5,449.2 98.9,450.5 100.2,445.4C101.5,440.3 100.8,441.8 103.2,438.3C105.6,434.8 105.4,438.2 107.3,435.0C109.2,431.8 107.5,432.6 108.9,428.8C110.3,425.0 108.2,426.8 111.4,423.7C114.6,420.6 113.8,422.7 118.6,419.6C123.4,416.5 122.6,417.9 125.7,414.5C128.8,411.1 126.1,412.5 127.8,409.4C129.5,406.3 127.7,407.7 130.8,405.3C133.9,402.9 132.2,404.3 137.0,402.3C141.8,400.3 139.7,401.1 145.1,399.2C150.5,397.3 148.6,398.2 153.3,396.6C158.0,395.0 155.1,395.8 159.1,394.4C163.1,393.0 161.1,393.8 165.2,392.4C169.3,391.0 168.1,392.4 171.3,390.3C174.5,388.2 174.2,388.9 174.9,386.2C175.6,383.5 175.9,384.6 173.4,382.2C170.9,379.8 172.1,381.5 167.3,379.1C162.5,376.7 162.3,377.4 159.1,375.0C155.9,372.6 160.0,376.4 157.8,371.9C155.6,367.4 156.1,368.4 152.6,361.4C149.1,354.4 151.2,358.3 147.3,350.8C143.4,343.3 145.2,346.4 140.8,339.0C136.4,331.6 137.7,335.5 134.2,328.5C130.7,321.5 132.8,324.6 130.3,318.0C127.8,311.4 128.8,314.5 126.8,308.6C124.8,302.7 125.3,305.8 124.3,300.2C123.3,294.6 123.0,297.4 123.8,291.8C124.6,286.2 123.0,286.5 126.8,283.4Z" fill="none" stroke="#66520f" stroke-width="1.8" stroke-linejoin="round" clip-path="url(#upperC)"/>

<!-- colorbar (c) -->
<defs><linearGradient id="cb" x1="0" x2="1" y1="0" y2="0">
<stop offset="0" stop-color="#cfd271"/><stop offset="0.08" stop-color="#86c27e"/><stop offset="0.2" stop-color="#8fc080"/>
<stop offset="0.27" stop-color="#e6c440"/><stop offset="0.36" stop-color="#f09c1e"/><stop offset="0.43" stop-color="#c08e2c"/>
<stop offset="0.5" stop-color="#e6d49a"/><stop offset="0.58" stop-color="#fdf9e2"/><stop offset="0.66" stop-color="#e2fbfa"/>
<stop offset="0.81" stop-color="#a4e8f8"/><stop offset="0.89" stop-color="#4eb4f0"/><stop offset="0.95" stop-color="#2e6cf0"/><stop offset="1" stop-color="#2450e8"/>
</linearGradient></defs>
<rect x="114.2" y="510.4" width="98.3" height="9.8" fill="url(#cb)"/>
<text class="ax" style="font-size:18.2px" x="115.2" y="501.8">0</text>
<text class="ax" style="font-size:18.2px" x="187.8" y="501.8" textLength="49.2">73.8 m</text>

</svg>
</body></html>
